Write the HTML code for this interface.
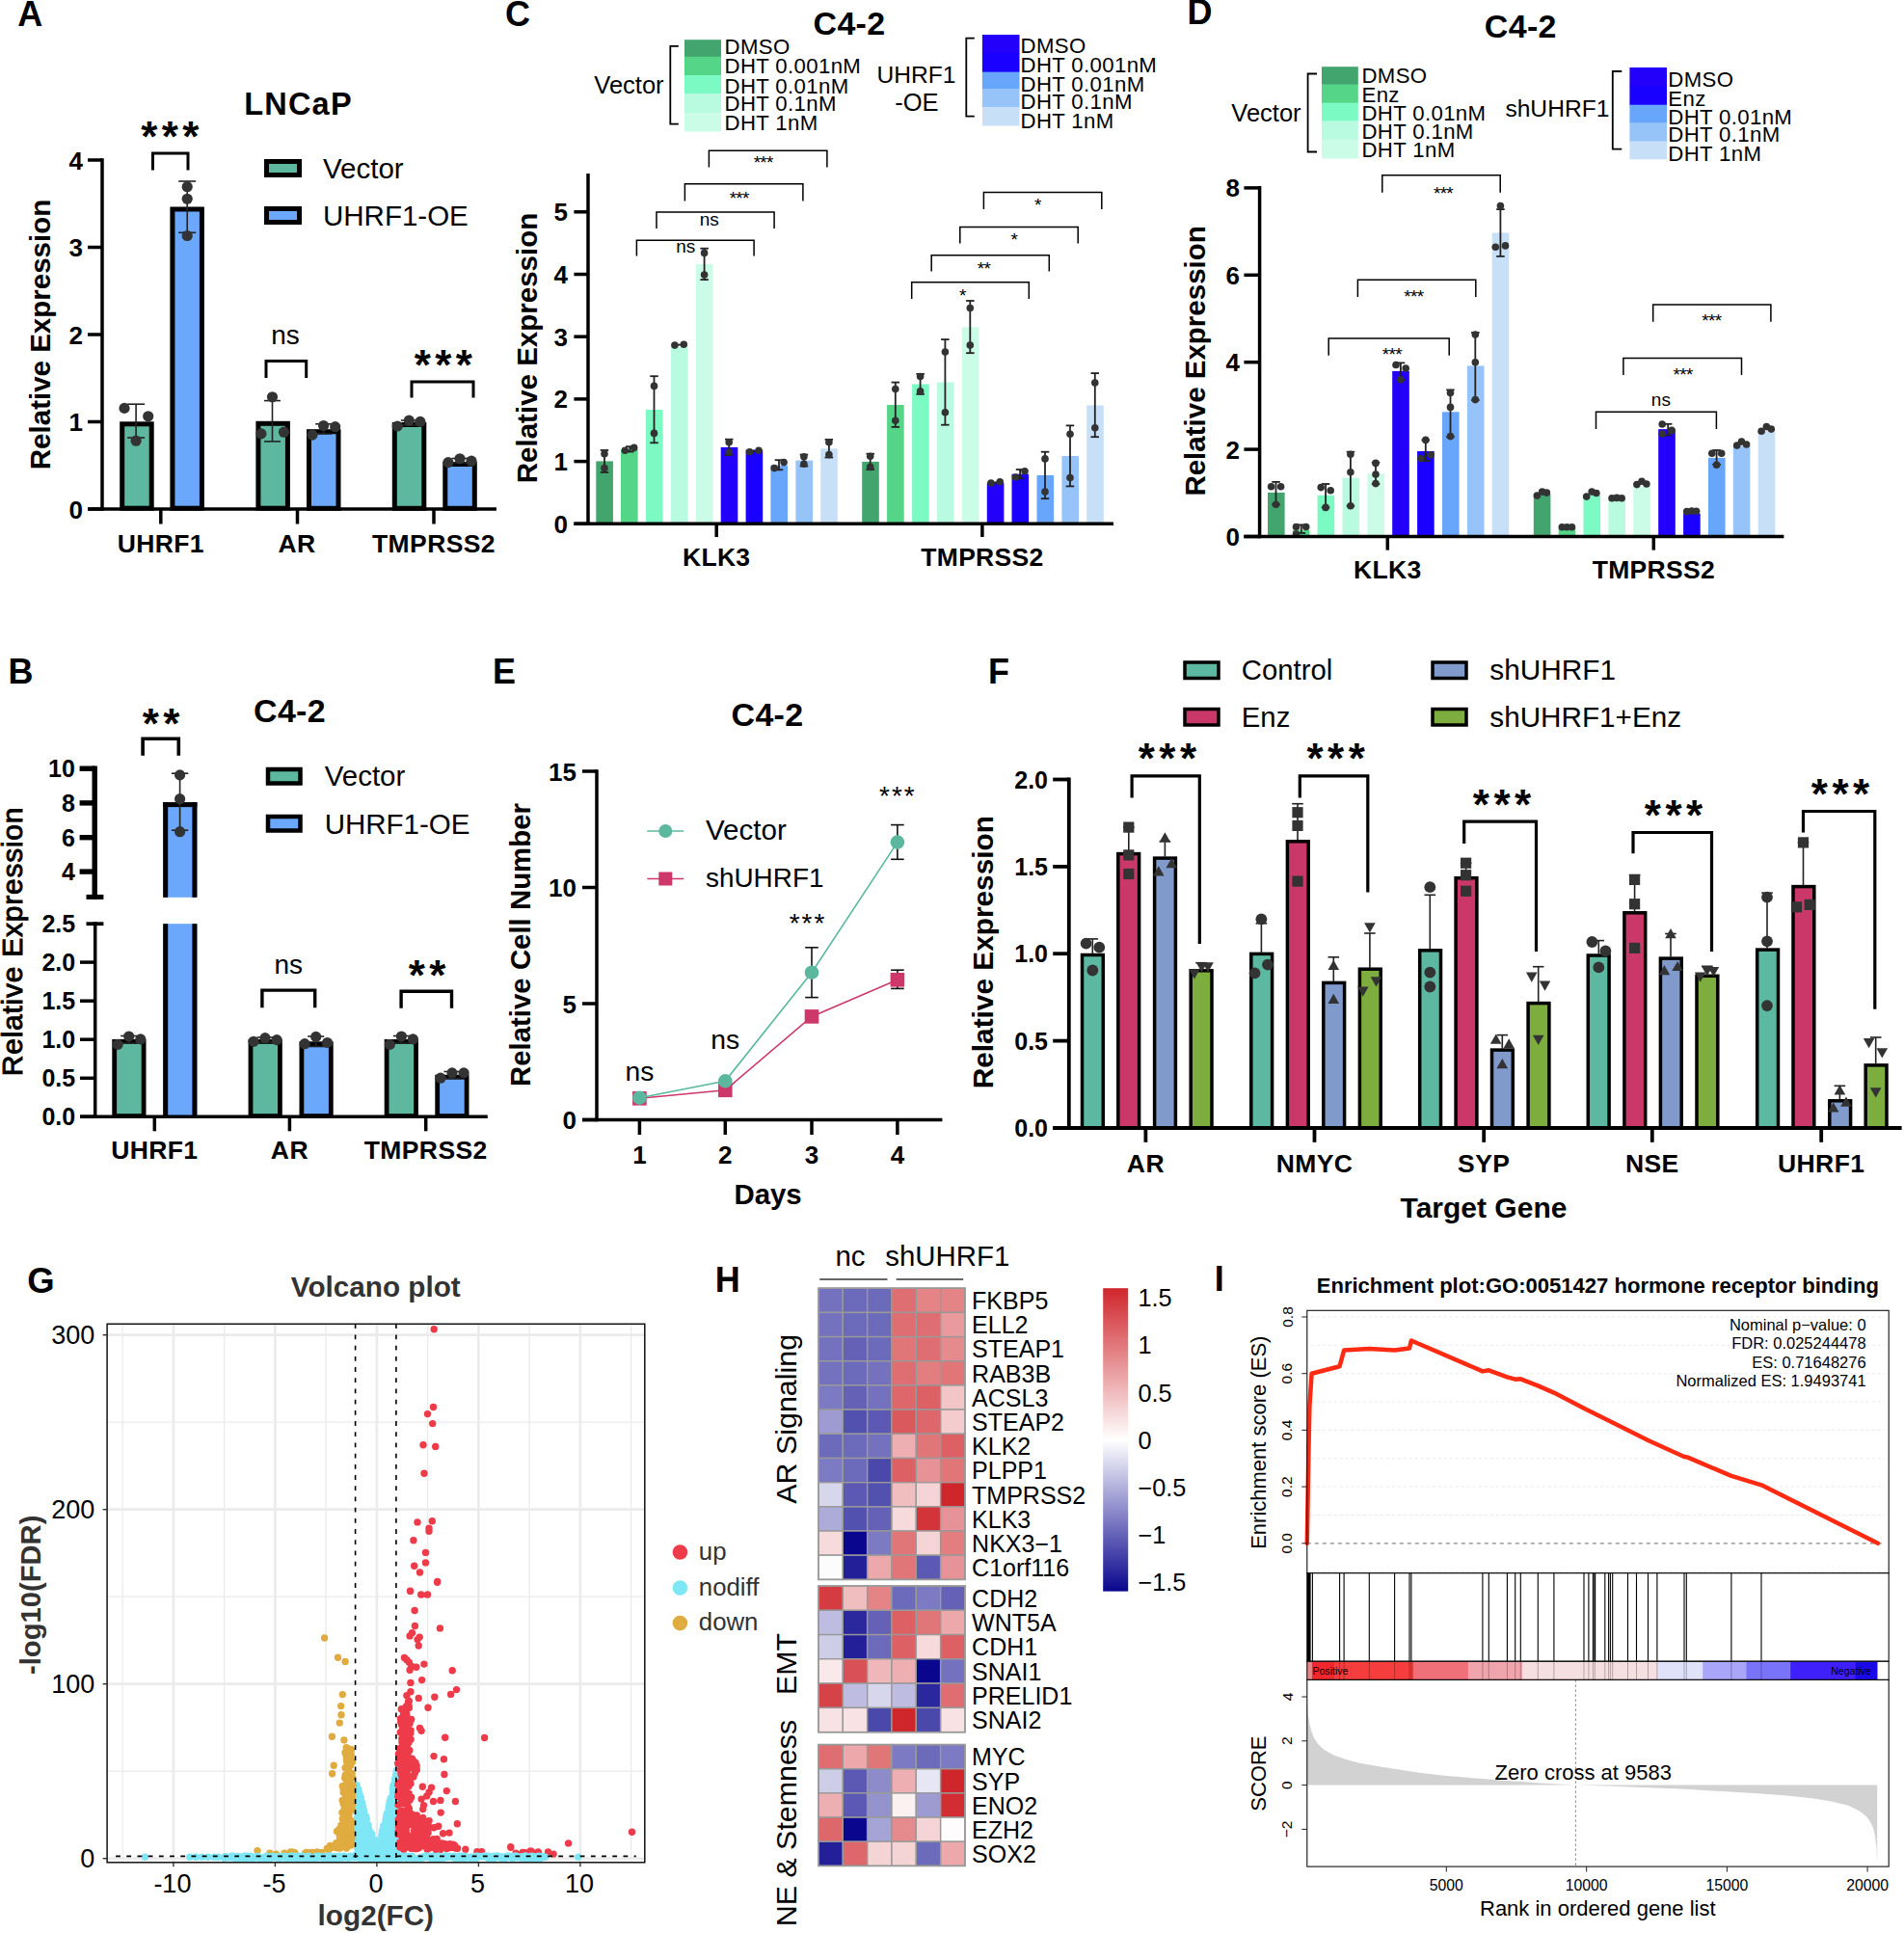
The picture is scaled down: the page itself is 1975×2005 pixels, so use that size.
<!DOCTYPE html>
<html><head><meta charset="utf-8"><title>Figure</title>
<style>html,body{margin:0;padding:0;background:#fff}svg{display:block}text{font-family:"Liberation Sans",sans-serif}</style>
</head><body>
<svg width="1975" height="2005" viewBox="0 0 1975 2005">
<rect width="1975" height="2005" fill="#fff"/>
<g>
<text x="18.2" y="26.8" font-size="36" font-weight="bold">A</text>
<text x="309.5" y="119.0" font-size="32.5" font-weight="bold" text-anchor="middle" letter-spacing="1.2">LNCaP</text>
<text x="52.0" y="347.0" font-size="29.5" font-weight="bold" text-anchor="middle" transform="rotate(-90 52.0 347.0)">Relative Expression</text>
<line x1="91.0" y1="528.0" x2="106.0" y2="528.0" stroke="#000" stroke-width="3.5"/>
<text x="86.0" y="537.5" font-size="26" font-weight="bold" text-anchor="end">0</text>
<line x1="91.0" y1="437.5" x2="106.0" y2="437.5" stroke="#000" stroke-width="3.5"/>
<text x="86.0" y="447.0" font-size="26" font-weight="bold" text-anchor="end">1</text>
<line x1="91.0" y1="347.0" x2="106.0" y2="347.0" stroke="#000" stroke-width="3.5"/>
<text x="86.0" y="356.5" font-size="26" font-weight="bold" text-anchor="end">2</text>
<line x1="91.0" y1="256.5" x2="106.0" y2="256.5" stroke="#000" stroke-width="3.5"/>
<text x="86.0" y="266.0" font-size="26" font-weight="bold" text-anchor="end">3</text>
<line x1="91.0" y1="166.0" x2="106.0" y2="166.0" stroke="#000" stroke-width="3.5"/>
<text x="86.0" y="175.5" font-size="26" font-weight="bold" text-anchor="end">4</text>
<line x1="166.8" y1="528.0" x2="166.8" y2="543.5" stroke="#000" stroke-width="3.5"/>
<line x1="308.5" y1="528.0" x2="308.5" y2="543.5" stroke="#000" stroke-width="3.5"/>
<line x1="450.0" y1="528.0" x2="450.0" y2="543.5" stroke="#000" stroke-width="3.5"/>
<text x="166.8" y="572.5" font-size="26.5" font-weight="bold" text-anchor="middle" letter-spacing="0.4">UHRF1</text>
<text x="308.0" y="572.5" font-size="26.5" font-weight="bold" text-anchor="middle" letter-spacing="0.4">AR</text>
<text x="450.0" y="572.5" font-size="26.5" font-weight="bold" text-anchor="middle" letter-spacing="0.4">TMPRSS2</text>
<rect x="126.7" y="439.8" width="30.5" height="87.4" fill="#5db89f" stroke="#000" stroke-width="5"/>
<rect x="178.9" y="217.0" width="30.5" height="310.2" fill="#6ba7fb" stroke="#000" stroke-width="5"/>
<rect x="267.9" y="439.3" width="30.5" height="87.9" fill="#5db89f" stroke="#000" stroke-width="5"/>
<rect x="320.5" y="447.7" width="30.5" height="79.6" fill="#6ba7fb" stroke="#000" stroke-width="5"/>
<rect x="409.3" y="440.5" width="30.5" height="86.8" fill="#5db89f" stroke="#000" stroke-width="5"/>
<rect x="461.8" y="481.5" width="30.5" height="45.8" fill="#6ba7fb" stroke="#000" stroke-width="5"/>
<line x1="106.0" y1="164.3" x2="106.0" y2="529.7" stroke="#000" stroke-width="3.5"/>
<line x1="91.0" y1="528.0" x2="515.0" y2="528.0" stroke="#000" stroke-width="3.5"/>
<line x1="141.1" y1="419.2" x2="141.1" y2="454.0" stroke="#222" stroke-width="1.6"/>
<line x1="132.1" y1="419.2" x2="150.1" y2="419.2" stroke="#222" stroke-width="1.6"/>
<line x1="132.1" y1="454.0" x2="150.1" y2="454.0" stroke="#222" stroke-width="1.6"/>
<line x1="194.2" y1="188.0" x2="194.2" y2="241.3" stroke="#222" stroke-width="1.6"/>
<line x1="185.2" y1="188.0" x2="203.2" y2="188.0" stroke="#222" stroke-width="1.6"/>
<line x1="185.2" y1="241.3" x2="203.2" y2="241.3" stroke="#222" stroke-width="1.6"/>
<line x1="282.5" y1="415.6" x2="282.5" y2="457.9" stroke="#222" stroke-width="1.6"/>
<line x1="274.0" y1="415.6" x2="291.0" y2="415.6" stroke="#222" stroke-width="1.6"/>
<line x1="274.0" y1="457.9" x2="291.0" y2="457.9" stroke="#222" stroke-width="1.6"/>
<line x1="335.7" y1="439.8" x2="335.7" y2="450.0" stroke="#222" stroke-width="1.6"/>
<line x1="327.2" y1="439.8" x2="344.2" y2="439.8" stroke="#222" stroke-width="1.6"/>
<line x1="327.2" y1="450.0" x2="344.2" y2="450.0" stroke="#222" stroke-width="1.6"/>
<line x1="424.3" y1="436.0" x2="424.3" y2="441.0" stroke="#222" stroke-width="1.6"/>
<line x1="415.8" y1="436.0" x2="432.8" y2="436.0" stroke="#222" stroke-width="1.6"/>
<line x1="415.8" y1="441.0" x2="432.8" y2="441.0" stroke="#222" stroke-width="1.6"/>
<line x1="477.0" y1="475.5" x2="477.0" y2="480.0" stroke="#222" stroke-width="1.6"/>
<line x1="468.5" y1="475.5" x2="485.5" y2="475.5" stroke="#222" stroke-width="1.6"/>
<line x1="468.5" y1="480.0" x2="485.5" y2="480.0" stroke="#222" stroke-width="1.6"/>
<circle cx="129.0" cy="423.4" r="5.6" fill="#333333"/>
<circle cx="153.7" cy="431.8" r="5.6" fill="#333333"/>
<circle cx="141.1" cy="457.2" r="5.6" fill="#333333"/>
<circle cx="194.2" cy="193.7" r="5.6" fill="#333333"/>
<circle cx="194.2" cy="206.3" r="5.6" fill="#333333"/>
<circle cx="194.2" cy="244.5" r="5.6" fill="#333333"/>
<circle cx="282.5" cy="411.8" r="5.6" fill="#333333"/>
<circle cx="270.9" cy="449.9" r="5.6" fill="#333333"/>
<circle cx="294.5" cy="448.2" r="5.6" fill="#333333"/>
<circle cx="324.0" cy="451.1" r="5.6" fill="#333333"/>
<circle cx="335.6" cy="441.5" r="5.6" fill="#333333"/>
<circle cx="347.7" cy="442.7" r="5.6" fill="#333333"/>
<circle cx="412.2" cy="442.0" r="5.6" fill="#333333"/>
<circle cx="424.3" cy="436.2" r="5.6" fill="#333333"/>
<circle cx="435.9" cy="437.4" r="5.6" fill="#333333"/>
<circle cx="464.9" cy="479.6" r="5.6" fill="#333333"/>
<circle cx="477.0" cy="475.8" r="5.6" fill="#333333"/>
<circle cx="489.0" cy="478.2" r="5.6" fill="#333333"/>
<path d="M158.5 176.5V159.0H195.0V176.5" fill="none" stroke="#000" stroke-width="3" stroke-linejoin="miter"/>
<path d="M276.0 392.0V374.6H317.7V392.0" fill="none" stroke="#000" stroke-width="3" stroke-linejoin="miter"/>
<path d="M427.0 412.5V396.0H491.0V412.5" fill="none" stroke="#000" stroke-width="3" stroke-linejoin="miter"/>
<text x="178.5" y="156.6" font-size="44" font-weight="bold" text-anchor="middle" letter-spacing="4.4">***</text>
<text x="462.0" y="393.9" font-size="44" font-weight="bold" text-anchor="middle" letter-spacing="4.4">***</text>
<text x="296.0" y="357.0" font-size="28" text-anchor="middle">ns</text>
<rect x="276.5" y="167.5" width="34.0" height="14.0" fill="#5db89f" stroke="#000" stroke-width="5"/>
<rect x="276.5" y="216.5" width="34.0" height="14.0" fill="#6ba7fb" stroke="#000" stroke-width="5"/>
<text x="335.0" y="184.5" font-size="29.5">Vector</text>
<text x="335.0" y="233.5" font-size="29.5">UHRF1-OE</text>
</g>
<g>
<text x="8.5" y="708.8" font-size="36" font-weight="bold">B</text>
<text x="300.5" y="748.5" font-size="34" font-weight="bold" text-anchor="middle" letter-spacing="0.3">C4-2</text>
<text x="23.3" y="976.5" font-size="30" text-anchor="middle" letter-spacing="0.75" transform="rotate(-90 23.3 976.5)" stroke="#000" stroke-width="0.9">Relative Expression</text>
<line x1="82.6" y1="797.2" x2="98.2" y2="797.2" stroke="#000" stroke-width="5.4"/>
<text x="77.8" y="806.2" font-size="25" font-weight="bold" text-anchor="end">10</text>
<line x1="82.6" y1="832.9" x2="98.2" y2="832.9" stroke="#000" stroke-width="5.4"/>
<text x="77.8" y="841.9" font-size="25" font-weight="bold" text-anchor="end">8</text>
<line x1="82.6" y1="868.7" x2="98.2" y2="868.7" stroke="#000" stroke-width="5.4"/>
<text x="77.8" y="877.7" font-size="25" font-weight="bold" text-anchor="end">6</text>
<line x1="82.6" y1="904.1" x2="98.2" y2="904.1" stroke="#000" stroke-width="5.4"/>
<text x="77.8" y="913.1" font-size="25" font-weight="bold" text-anchor="end">4</text>
<line x1="89.5" y1="930.4" x2="107.4" y2="930.4" stroke="#000" stroke-width="5"/>
<line x1="98.2" y1="794.5" x2="98.2" y2="932.9" stroke="#000" stroke-width="5.4"/>
<line x1="83.0" y1="1158.3" x2="98.7" y2="1158.3" stroke="#000" stroke-width="3.5"/>
<text x="78.2" y="1167.3" font-size="25" font-weight="bold" text-anchor="end">0.0</text>
<line x1="83.0" y1="1118.3" x2="98.7" y2="1118.3" stroke="#000" stroke-width="3.5"/>
<text x="78.2" y="1127.3" font-size="25" font-weight="bold" text-anchor="end">0.5</text>
<line x1="83.0" y1="1078.2" x2="98.7" y2="1078.2" stroke="#000" stroke-width="3.5"/>
<text x="78.2" y="1087.2" font-size="25" font-weight="bold" text-anchor="end">1.0</text>
<line x1="83.0" y1="1038.2" x2="98.7" y2="1038.2" stroke="#000" stroke-width="3.5"/>
<text x="78.2" y="1047.2" font-size="25" font-weight="bold" text-anchor="end">1.5</text>
<line x1="83.0" y1="998.1" x2="98.7" y2="998.1" stroke="#000" stroke-width="3.5"/>
<text x="78.2" y="1007.1" font-size="25" font-weight="bold" text-anchor="end">2.0</text>
<text x="78.2" y="967.1" font-size="25" font-weight="bold" text-anchor="end">2.5</text>
<line x1="89.5" y1="958.2" x2="107.4" y2="958.2" stroke="#000" stroke-width="3.8"/>
<line x1="98.7" y1="956.3" x2="98.7" y2="1160.0" stroke="#000" stroke-width="3.5"/>
<rect x="118.7" y="1080.3" width="30.4" height="77.3" fill="#5db89f" stroke="#000" stroke-width="4.8"/>
<rect x="260.0" y="1080.4" width="30.4" height="77.2" fill="#5db89f" stroke="#000" stroke-width="4.8"/>
<rect x="312.9" y="1082.7" width="30.4" height="74.9" fill="#6ba7fb" stroke="#000" stroke-width="4.8"/>
<rect x="401.1" y="1080.4" width="30.4" height="77.2" fill="#5db89f" stroke="#000" stroke-width="4.8"/>
<rect x="453.7" y="1117.2" width="30.4" height="40.4" fill="#6ba7fb" stroke="#000" stroke-width="4.8"/>
<rect x="169.2" y="832.1" width="35.2" height="98.7" fill="#6ba7fb"/>
<rect x="169.2" y="958.2" width="35.2" height="200.1" fill="#6ba7fb"/>
<rect x="169.2" y="832.1" width="5.0" height="98.7" fill="#000"/>
<rect x="199.4" y="832.1" width="5.0" height="98.7" fill="#000"/>
<rect x="169.2" y="958.2" width="5.0" height="201.8" fill="#000"/>
<rect x="199.4" y="958.2" width="5.0" height="201.8" fill="#000"/>
<rect x="169.2" y="832.1" width="35.2" height="5.0" fill="#000"/>
<line x1="83.0" y1="1158.3" x2="505.8" y2="1158.3" stroke="#000" stroke-width="3.5"/>
<line x1="160.3" y1="1158.3" x2="160.3" y2="1173.3" stroke="#000" stroke-width="3.5"/>
<text x="160.3" y="1201.8" font-size="26.5" font-weight="bold" text-anchor="middle" letter-spacing="0.4">UHRF1</text>
<line x1="300.4" y1="1158.3" x2="300.4" y2="1173.3" stroke="#000" stroke-width="3.5"/>
<text x="300.4" y="1201.8" font-size="26.5" font-weight="bold" text-anchor="middle" letter-spacing="0.4">AR</text>
<line x1="441.7" y1="1158.3" x2="441.7" y2="1173.3" stroke="#000" stroke-width="3.5"/>
<text x="441.7" y="1201.8" font-size="26.5" font-weight="bold" text-anchor="middle" letter-spacing="0.4">TMPRSS2</text>
<line x1="186.6" y1="802.2" x2="186.6" y2="861.2" stroke="#222" stroke-width="1.6"/>
<line x1="177.9" y1="802.2" x2="195.3" y2="802.2" stroke="#222" stroke-width="1.6"/>
<line x1="177.9" y1="861.2" x2="195.3" y2="861.2" stroke="#222" stroke-width="1.6"/>
<circle cx="186.6" cy="803.9" r="5.6" fill="#333333"/>
<circle cx="186.6" cy="828.7" r="5.6" fill="#333333"/>
<circle cx="186.6" cy="862.7" r="5.6" fill="#333333"/>
<line x1="133.7" y1="1074.5" x2="133.7" y2="1082.0" stroke="#222" stroke-width="1.6"/>
<line x1="125.2" y1="1074.5" x2="142.2" y2="1074.5" stroke="#222" stroke-width="1.6"/>
<line x1="125.2" y1="1082.0" x2="142.2" y2="1082.0" stroke="#222" stroke-width="1.6"/>
<line x1="275.0" y1="1076.0" x2="275.0" y2="1081.0" stroke="#222" stroke-width="1.6"/>
<line x1="266.5" y1="1076.0" x2="283.5" y2="1076.0" stroke="#222" stroke-width="1.6"/>
<line x1="266.5" y1="1081.0" x2="283.5" y2="1081.0" stroke="#222" stroke-width="1.6"/>
<line x1="327.7" y1="1075.0" x2="327.7" y2="1085.5" stroke="#222" stroke-width="1.6"/>
<line x1="319.2" y1="1075.0" x2="336.2" y2="1075.0" stroke="#222" stroke-width="1.6"/>
<line x1="319.2" y1="1085.5" x2="336.2" y2="1085.5" stroke="#222" stroke-width="1.6"/>
<line x1="416.4" y1="1074.5" x2="416.4" y2="1082.0" stroke="#222" stroke-width="1.6"/>
<line x1="407.9" y1="1074.5" x2="424.9" y2="1074.5" stroke="#222" stroke-width="1.6"/>
<line x1="407.9" y1="1082.0" x2="424.9" y2="1082.0" stroke="#222" stroke-width="1.6"/>
<line x1="469.0" y1="1111.5" x2="469.0" y2="1118.5" stroke="#222" stroke-width="1.6"/>
<line x1="460.5" y1="1111.5" x2="477.5" y2="1111.5" stroke="#222" stroke-width="1.6"/>
<line x1="460.5" y1="1118.5" x2="477.5" y2="1118.5" stroke="#222" stroke-width="1.6"/>
<circle cx="122.1" cy="1083.4" r="5.6" fill="#333333"/>
<circle cx="133.7" cy="1075.0" r="5.6" fill="#333333"/>
<circle cx="145.8" cy="1077.9" r="5.6" fill="#333333"/>
<circle cx="263.0" cy="1080.3" r="5.6" fill="#333333"/>
<circle cx="275.0" cy="1076.6" r="5.6" fill="#333333"/>
<circle cx="287.1" cy="1078.6" r="5.6" fill="#333333"/>
<circle cx="316.1" cy="1082.7" r="5.6" fill="#333333"/>
<circle cx="327.7" cy="1075.4" r="5.6" fill="#333333"/>
<circle cx="339.5" cy="1081.5" r="5.6" fill="#333333"/>
<circle cx="404.3" cy="1083.4" r="5.6" fill="#333333"/>
<circle cx="416.4" cy="1075.0" r="5.6" fill="#333333"/>
<circle cx="428.4" cy="1077.9" r="5.6" fill="#333333"/>
<circle cx="457.0" cy="1118.2" r="5.6" fill="#333333"/>
<circle cx="469.0" cy="1112.9" r="5.6" fill="#333333"/>
<circle cx="481.1" cy="1112.9" r="5.6" fill="#333333"/>
<path d="M148.1 783.7V766.3H185.3V783.7" fill="none" stroke="#000" stroke-width="3.6" stroke-linejoin="miter"/>
<path d="M271.9 1045.2V1027.1H326.7V1045.2" fill="none" stroke="#000" stroke-width="3.4" stroke-linejoin="miter"/>
<path d="M416.1 1045.7V1028.3H468.5V1045.7" fill="none" stroke="#000" stroke-width="3.4" stroke-linejoin="miter"/>
<text x="169.2" y="765.7" font-size="44" font-weight="bold" text-anchor="middle" letter-spacing="4.4">**</text>
<text x="445.2" y="1026.5" font-size="44" font-weight="bold" text-anchor="middle" letter-spacing="4.4">**</text>
<text x="299.2" y="1010.2" font-size="28" text-anchor="middle">ns</text>
<rect x="278.0" y="798.0" width="33.5" height="14.5" fill="#5db89f" stroke="#000" stroke-width="4.5"/>
<rect x="278.0" y="847.0" width="33.5" height="14.5" fill="#6ba7fb" stroke="#000" stroke-width="4.5"/>
<text x="336.7" y="815.2" font-size="29.5">Vector</text>
<text x="336.7" y="864.8" font-size="29.5">UHRF1-OE</text>
</g>
<g>
<text x="524.0" y="26.8" font-size="36" font-weight="bold">C</text>
<text x="881.0" y="35.7" font-size="34" font-weight="bold" text-anchor="middle" letter-spacing="0.3">C4-2</text>
<text x="557.0" y="361.0" font-size="29.5" font-weight="bold" text-anchor="middle" transform="rotate(-90 557.0 361.0)">Relative Expression</text>
<rect x="710.0" y="41.2" width="38.0" height="18.1" fill="#41a56d"/>
<rect x="710.0" y="58.8" width="38.0" height="19.7" fill="#54d588"/>
<rect x="710.0" y="78.0" width="38.0" height="19.5" fill="#7cfac4"/>
<rect x="710.0" y="97.0" width="38.0" height="20.5" fill="#b9fbe1"/>
<rect x="710.0" y="117.0" width="38.0" height="19.5" fill="#cafce7"/>
<text x="751.6" y="55.6" font-size="22.2" letter-spacing="0.35">DMSO</text>
<text x="751.6" y="76.2" font-size="22.2" letter-spacing="0.35">DHT 0.001nM</text>
<text x="751.6" y="96.7" font-size="22.2" letter-spacing="0.35">DHT 0.01nM</text>
<text x="751.6" y="115.1" font-size="22.2" letter-spacing="0.35">DHT 0.1nM</text>
<text x="751.6" y="135.0" font-size="22.2" letter-spacing="0.35">DHT 1nM</text>
<text x="616.3" y="97.4" font-size="25.5">Vector</text>
<path d="M703.8 47.8H695.3V128.7H703.8" fill="none" stroke="#000" stroke-width="1.8"/>
<text x="950.5" y="86.4" font-size="24.6" text-anchor="middle">UHRF1</text>
<text x="950.9" y="114.7" font-size="25.5" text-anchor="middle">-OE</text>
<path d="M1010.8 39.7H1002.3V120.6H1010.8" fill="none" stroke="#000" stroke-width="1.8"/>
<rect x="1018.9" y="36.0" width="38.6" height="19.5" fill="#2300fa"/>
<rect x="1018.9" y="55.0" width="38.6" height="20.1" fill="#1a00ff"/>
<rect x="1018.9" y="74.6" width="38.6" height="17.9" fill="#68a6fb"/>
<rect x="1018.9" y="92.0" width="38.6" height="19.5" fill="#97c4f8"/>
<rect x="1018.9" y="111.0" width="38.6" height="19.5" fill="#c8dff8"/>
<text x="1058.6" y="54.7" font-size="22.2" letter-spacing="0.35">DMSO</text>
<text x="1058.6" y="75.1" font-size="22.2" letter-spacing="0.35">DHT 0.001nM</text>
<text x="1058.6" y="94.6" font-size="22.2" letter-spacing="0.35">DHT 0.01nM</text>
<text x="1058.6" y="112.6" font-size="22.2" letter-spacing="0.35">DHT 0.1nM</text>
<text x="1058.6" y="132.7" font-size="22.2" letter-spacing="0.35">DHT 1nM</text>
<rect x="618.3" y="478.4" width="17.6" height="64.9" fill="#41a56d"/>
<rect x="644.0" y="466.5" width="17.6" height="76.8" fill="#54d588"/>
<rect x="670.0" y="425.0" width="17.6" height="118.3" fill="#7cfac4"/>
<rect x="696.0" y="359.8" width="17.6" height="183.5" fill="#b9fbe1"/>
<rect x="721.9" y="274.0" width="17.6" height="269.3" fill="#cafce7"/>
<rect x="747.7" y="463.9" width="17.6" height="79.4" fill="#2300fa"/>
<rect x="773.6" y="466.5" width="17.6" height="76.8" fill="#1a00ff"/>
<rect x="799.4" y="482.7" width="17.6" height="60.6" fill="#68a6fb"/>
<rect x="825.4" y="477.6" width="17.6" height="65.7" fill="#97c4f8"/>
<rect x="851.2" y="465.3" width="17.6" height="78.0" fill="#c8dff8"/>
<line x1="627.0" y1="467.0" x2="627.0" y2="489.9" stroke="#222" stroke-width="1.8"/>
<line x1="622.7" y1="467.0" x2="631.2" y2="467.0" stroke="#222" stroke-width="1.8"/>
<line x1="622.7" y1="489.9" x2="631.2" y2="489.9" stroke="#222" stroke-width="1.8"/>
<line x1="653.3" y1="463.2" x2="653.3" y2="468.5" stroke="#222" stroke-width="1.8"/>
<line x1="649.0" y1="463.2" x2="657.5" y2="463.2" stroke="#222" stroke-width="1.8"/>
<line x1="649.0" y1="468.5" x2="657.5" y2="468.5" stroke="#222" stroke-width="1.8"/>
<line x1="678.5" y1="390.2" x2="678.5" y2="459.3" stroke="#222" stroke-width="1.8"/>
<line x1="674.3" y1="390.2" x2="682.8" y2="390.2" stroke="#222" stroke-width="1.8"/>
<line x1="674.3" y1="459.3" x2="682.8" y2="459.3" stroke="#222" stroke-width="1.8"/>
<line x1="730.6" y1="257.7" x2="730.6" y2="290.1" stroke="#222" stroke-width="1.8"/>
<line x1="726.4" y1="257.7" x2="734.9" y2="257.7" stroke="#222" stroke-width="1.8"/>
<line x1="726.4" y1="290.1" x2="734.9" y2="290.1" stroke="#222" stroke-width="1.8"/>
<line x1="756.2" y1="455.7" x2="756.2" y2="472.1" stroke="#222" stroke-width="1.8"/>
<line x1="752.0" y1="455.7" x2="760.5" y2="455.7" stroke="#222" stroke-width="1.8"/>
<line x1="752.0" y1="472.1" x2="760.5" y2="472.1" stroke="#222" stroke-width="1.8"/>
<line x1="808.0" y1="477.2" x2="808.0" y2="487.3" stroke="#222" stroke-width="1.8"/>
<line x1="803.7" y1="477.2" x2="812.2" y2="477.2" stroke="#222" stroke-width="1.8"/>
<line x1="803.7" y1="487.3" x2="812.2" y2="487.3" stroke="#222" stroke-width="1.8"/>
<line x1="833.9" y1="471.6" x2="833.9" y2="483.5" stroke="#222" stroke-width="1.8"/>
<line x1="829.7" y1="471.6" x2="838.2" y2="471.6" stroke="#222" stroke-width="1.8"/>
<line x1="829.7" y1="483.5" x2="838.2" y2="483.5" stroke="#222" stroke-width="1.8"/>
<line x1="859.9" y1="455.9" x2="859.9" y2="474.5" stroke="#222" stroke-width="1.8"/>
<line x1="855.6" y1="455.9" x2="864.1" y2="455.9" stroke="#222" stroke-width="1.8"/>
<line x1="855.6" y1="474.5" x2="864.1" y2="474.5" stroke="#222" stroke-width="1.8"/>
<line x1="699.9" y1="358.1" x2="709.3" y2="357.2" stroke="#222" stroke-width="1.8"/>
<line x1="777.6" y1="468.7" x2="787.0" y2="467.3" stroke="#222" stroke-width="1.8"/>
<circle cx="627.0" cy="470.7" r="3.8" fill="#333333"/>
<circle cx="627.0" cy="485.6" r="3.8" fill="#333333"/>
<circle cx="648.3" cy="467.3" r="3.8" fill="#333333"/>
<circle cx="657.7" cy="464.4" r="3.8" fill="#333333"/>
<circle cx="678.5" cy="400.4" r="3.8" fill="#333333"/>
<circle cx="678.5" cy="449.4" r="3.8" fill="#333333"/>
<circle cx="699.9" cy="358.1" r="3.8" fill="#333333"/>
<circle cx="709.3" cy="357.2" r="3.8" fill="#333333"/>
<circle cx="730.6" cy="262.4" r="3.8" fill="#333333"/>
<circle cx="730.6" cy="285.0" r="3.8" fill="#333333"/>
<circle cx="756.2" cy="458.8" r="3.8" fill="#333333"/>
<circle cx="756.2" cy="469.0" r="3.8" fill="#333333"/>
<circle cx="777.6" cy="468.7" r="3.8" fill="#333333"/>
<circle cx="787.0" cy="467.3" r="3.8" fill="#333333"/>
<circle cx="803.2" cy="485.6" r="3.8" fill="#333333"/>
<circle cx="813.1" cy="479.6" r="3.8" fill="#333333"/>
<circle cx="833.9" cy="473.8" r="3.8" fill="#333333"/>
<circle cx="833.9" cy="481.3" r="3.8" fill="#333333"/>
<circle cx="859.9" cy="458.8" r="3.8" fill="#333333"/>
<circle cx="859.9" cy="471.6" r="3.8" fill="#333333"/>
<path d="M660.4 265.4V249.3H782.1V265.4" fill="none" stroke="#000" stroke-width="1.5" stroke-linejoin="miter"/>
<text x="711.2" y="261.8" font-size="19" text-anchor="middle">ns</text>
<path d="M681.0 237.1V219.9H803.1V237.1" fill="none" stroke="#000" stroke-width="1.5" stroke-linejoin="miter"/>
<text x="735.8" y="233.5" font-size="19" text-anchor="middle">ns</text>
<path d="M710.4 208.5V190.8H832.9V208.5" fill="none" stroke="#000" stroke-width="1.5" stroke-linejoin="miter"/>
<text x="766.7" y="211.7" font-size="19" text-anchor="middle" letter-spacing="-0.7">***</text>
<path d="M735.4 173.5V156.2H857.9V173.5" fill="none" stroke="#000" stroke-width="1.5" stroke-linejoin="miter"/>
<text x="791.7" y="174.9" font-size="19" text-anchor="middle" letter-spacing="-0.7">***</text>
<rect x="894.2" y="478.9" width="17.6" height="64.4" fill="#41a56d"/>
<rect x="920.1" y="420.0" width="17.6" height="123.3" fill="#54d588"/>
<rect x="946.1" y="398.5" width="17.6" height="144.8" fill="#7cfac4"/>
<rect x="971.9" y="396.5" width="17.6" height="146.8" fill="#b9fbe1"/>
<rect x="997.8" y="339.3" width="17.6" height="204.0" fill="#cafce7"/>
<rect x="1023.8" y="500.6" width="17.6" height="42.7" fill="#2300fa"/>
<rect x="1049.5" y="491.7" width="17.6" height="51.6" fill="#1a00ff"/>
<rect x="1075.5" y="492.9" width="17.6" height="50.4" fill="#68a6fb"/>
<rect x="1101.4" y="473.0" width="17.6" height="70.3" fill="#97c4f8"/>
<rect x="1127.2" y="420.4" width="17.6" height="122.9" fill="#c8dff8"/>
<line x1="902.7" y1="470.7" x2="902.7" y2="487.0" stroke="#222" stroke-width="1.8"/>
<line x1="898.5" y1="470.7" x2="907.0" y2="470.7" stroke="#222" stroke-width="1.8"/>
<line x1="898.5" y1="487.0" x2="907.0" y2="487.0" stroke="#222" stroke-width="1.8"/>
<line x1="928.8" y1="396.6" x2="928.8" y2="442.9" stroke="#222" stroke-width="1.8"/>
<line x1="924.6" y1="396.6" x2="933.1" y2="396.6" stroke="#222" stroke-width="1.8"/>
<line x1="924.6" y1="442.9" x2="933.1" y2="442.9" stroke="#222" stroke-width="1.8"/>
<line x1="954.6" y1="387.9" x2="954.6" y2="408.8" stroke="#222" stroke-width="1.8"/>
<line x1="950.4" y1="387.9" x2="958.9" y2="387.9" stroke="#222" stroke-width="1.8"/>
<line x1="950.4" y1="408.8" x2="958.9" y2="408.8" stroke="#222" stroke-width="1.8"/>
<line x1="980.4" y1="352.1" x2="980.4" y2="440.7" stroke="#222" stroke-width="1.8"/>
<line x1="976.1" y1="352.1" x2="984.6" y2="352.1" stroke="#222" stroke-width="1.8"/>
<line x1="976.1" y1="440.7" x2="984.6" y2="440.7" stroke="#222" stroke-width="1.8"/>
<line x1="1006.3" y1="312.0" x2="1006.3" y2="366.2" stroke="#222" stroke-width="1.8"/>
<line x1="1002.1" y1="312.0" x2="1010.6" y2="312.0" stroke="#222" stroke-width="1.8"/>
<line x1="1002.1" y1="366.2" x2="1010.6" y2="366.2" stroke="#222" stroke-width="1.8"/>
<line x1="1058.1" y1="487.0" x2="1058.1" y2="496.3" stroke="#222" stroke-width="1.8"/>
<line x1="1053.8" y1="487.0" x2="1062.3" y2="487.0" stroke="#222" stroke-width="1.8"/>
<line x1="1053.8" y1="496.3" x2="1062.3" y2="496.3" stroke="#222" stroke-width="1.8"/>
<line x1="1084.0" y1="468.7" x2="1084.0" y2="517.2" stroke="#222" stroke-width="1.8"/>
<line x1="1079.8" y1="468.7" x2="1088.3" y2="468.7" stroke="#222" stroke-width="1.8"/>
<line x1="1079.8" y1="517.2" x2="1088.3" y2="517.2" stroke="#222" stroke-width="1.8"/>
<line x1="1110.0" y1="441.4" x2="1110.0" y2="504.4" stroke="#222" stroke-width="1.8"/>
<line x1="1105.7" y1="441.4" x2="1114.2" y2="441.4" stroke="#222" stroke-width="1.8"/>
<line x1="1105.7" y1="504.4" x2="1114.2" y2="504.4" stroke="#222" stroke-width="1.8"/>
<line x1="1135.8" y1="387.1" x2="1135.8" y2="453.2" stroke="#222" stroke-width="1.8"/>
<line x1="1131.5" y1="387.1" x2="1140.0" y2="387.1" stroke="#222" stroke-width="1.8"/>
<line x1="1131.5" y1="453.2" x2="1140.0" y2="453.2" stroke="#222" stroke-width="1.8"/>
<line x1="1027.9" y1="501.0" x2="1037.2" y2="499.8" stroke="#222" stroke-width="1.8"/>
<circle cx="902.7" cy="473.3" r="3.8" fill="#333333"/>
<circle cx="902.7" cy="484.4" r="3.8" fill="#333333"/>
<circle cx="928.8" cy="403.6" r="3.8" fill="#333333"/>
<circle cx="928.8" cy="436.2" r="3.8" fill="#333333"/>
<circle cx="954.6" cy="390.5" r="3.8" fill="#333333"/>
<circle cx="954.6" cy="405.9" r="3.8" fill="#333333"/>
<circle cx="980.4" cy="365.1" r="3.8" fill="#333333"/>
<circle cx="980.4" cy="427.7" r="3.8" fill="#333333"/>
<circle cx="1006.3" cy="319.6" r="3.8" fill="#333333"/>
<circle cx="1006.3" cy="358.1" r="3.8" fill="#333333"/>
<circle cx="1027.9" cy="501.0" r="3.8" fill="#333333"/>
<circle cx="1037.2" cy="499.8" r="3.8" fill="#333333"/>
<circle cx="1053.5" cy="495.0" r="3.8" fill="#333333"/>
<circle cx="1063.0" cy="488.7" r="3.8" fill="#333333"/>
<circle cx="1084.0" cy="475.9" r="3.8" fill="#333333"/>
<circle cx="1084.0" cy="510.0" r="3.8" fill="#333333"/>
<circle cx="1110.0" cy="450.2" r="3.8" fill="#333333"/>
<circle cx="1110.0" cy="495.5" r="3.8" fill="#333333"/>
<circle cx="1135.8" cy="397.0" r="3.8" fill="#333333"/>
<circle cx="1135.8" cy="443.8" r="3.8" fill="#333333"/>
<path d="M945.7 309.9V292.8H1067.3V309.9" fill="none" stroke="#000" stroke-width="1.5" stroke-linejoin="miter"/>
<text x="998.3" y="312.6" font-size="19" text-anchor="middle" letter-spacing="-0.7">*</text>
<path d="M966.2 281.6V264.7H1088.3V281.6" fill="none" stroke="#000" stroke-width="1.5" stroke-linejoin="miter"/>
<text x="1020.5" y="284.7" font-size="19" text-anchor="middle" letter-spacing="-0.7">**</text>
<path d="M995.8 252.5V235.5H1118.2V252.5" fill="none" stroke="#000" stroke-width="1.5" stroke-linejoin="miter"/>
<text x="1051.9" y="255.4" font-size="19" text-anchor="middle" letter-spacing="-0.7">*</text>
<path d="M1020.4 216.9V199.6H1142.8V216.9" fill="none" stroke="#000" stroke-width="1.5" stroke-linejoin="miter"/>
<text x="1076.6" y="218.7" font-size="19" text-anchor="middle">*</text>
<line x1="595.4" y1="543.3" x2="610.0" y2="543.3" stroke="#000" stroke-width="3.5"/>
<text x="589.0" y="552.8" font-size="26" font-weight="bold" text-anchor="end">0</text>
<line x1="595.4" y1="478.6" x2="610.0" y2="478.6" stroke="#000" stroke-width="3.5"/>
<text x="589.0" y="488.1" font-size="26" font-weight="bold" text-anchor="end">1</text>
<line x1="595.4" y1="413.9" x2="610.0" y2="413.9" stroke="#000" stroke-width="3.5"/>
<text x="589.0" y="423.4" font-size="26" font-weight="bold" text-anchor="end">2</text>
<line x1="595.4" y1="349.2" x2="610.0" y2="349.2" stroke="#000" stroke-width="3.5"/>
<text x="589.0" y="358.7" font-size="26" font-weight="bold" text-anchor="end">3</text>
<line x1="595.4" y1="284.5" x2="610.0" y2="284.5" stroke="#000" stroke-width="3.5"/>
<text x="589.0" y="294.0" font-size="26" font-weight="bold" text-anchor="end">4</text>
<line x1="595.4" y1="219.8" x2="610.0" y2="219.8" stroke="#000" stroke-width="3.5"/>
<text x="589.0" y="229.3" font-size="26" font-weight="bold" text-anchor="end">5</text>
<line x1="610.0" y1="180.0" x2="610.0" y2="545.0" stroke="#000" stroke-width="3.5"/>
<line x1="595.4" y1="543.3" x2="1155.0" y2="543.3" stroke="#000" stroke-width="3.5"/>
<line x1="743.2" y1="543.3" x2="743.2" y2="557.0" stroke="#000" stroke-width="3.5"/>
<text x="743.2" y="587.0" font-size="26.5" font-weight="bold" text-anchor="middle" letter-spacing="0.3">KLK3</text>
<line x1="1018.9" y1="543.3" x2="1018.9" y2="557.0" stroke="#000" stroke-width="3.5"/>
<text x="1018.9" y="587.0" font-size="26.5" font-weight="bold" text-anchor="middle" letter-spacing="0.3">TMPRSS2</text>
</g>
<g>
<text x="1231.5" y="25.2" font-size="36" font-weight="bold">D</text>
<text x="1577.3" y="38.7" font-size="34" font-weight="bold" text-anchor="middle" letter-spacing="0.3">C4-2</text>
<text x="1250.0" y="374.4" font-size="29.5" font-weight="bold" text-anchor="middle" transform="rotate(-90 1250.0 374.4)">Relative Expression</text>
<rect x="1371.0" y="69.2" width="37.8" height="18.8" fill="#41a56d"/>
<rect x="1371.0" y="87.5" width="37.8" height="19.6" fill="#54d588"/>
<rect x="1371.0" y="106.6" width="37.8" height="19.3" fill="#7cfac4"/>
<rect x="1371.0" y="125.4" width="37.8" height="19.6" fill="#b9fbe1"/>
<rect x="1371.0" y="144.5" width="37.8" height="20.0" fill="#cafce7"/>
<text x="1412.5" y="86.0" font-size="22.2" letter-spacing="0.35">DMSO</text>
<text x="1412.5" y="105.5" font-size="22.2" letter-spacing="0.35">Enz</text>
<text x="1412.5" y="125.1" font-size="22.2" letter-spacing="0.35">DHT 0.01nM</text>
<text x="1412.5" y="143.7" font-size="22.2" letter-spacing="0.35">DHT 0.1nM</text>
<text x="1412.5" y="163.3" font-size="22.2" letter-spacing="0.35">DHT 1nM</text>
<text x="1277.3" y="126.2" font-size="25.5">Vector</text>
<path d="M1366 76.5H1356.6V157.5H1366" fill="none" stroke="#000" stroke-width="1.8"/>
<text x="1561.4" y="120.9" font-size="24.6">shUHRF1</text>
<path d="M1682.3 74H1672.8V154.7H1682.3" fill="none" stroke="#000" stroke-width="1.8"/>
<rect x="1690.4" y="70.0" width="38.6" height="20.0" fill="#2300fa"/>
<rect x="1690.4" y="89.5" width="38.6" height="19.7" fill="#1a00ff"/>
<rect x="1690.4" y="108.7" width="38.6" height="19.2" fill="#68a6fb"/>
<rect x="1690.4" y="127.4" width="38.6" height="19.6" fill="#97c4f8"/>
<rect x="1690.4" y="146.5" width="38.6" height="18.8" fill="#c8dff8"/>
<text x="1730.3" y="90.1" font-size="22.2" letter-spacing="0.35">DMSO</text>
<text x="1730.3" y="109.6" font-size="22.2" letter-spacing="0.35">Enz</text>
<text x="1730.3" y="129.1" font-size="22.2" letter-spacing="0.35">DHT 0.01nM</text>
<text x="1730.3" y="147.4" font-size="22.2" letter-spacing="0.35">DHT 0.1nM</text>
<text x="1730.3" y="167.4" font-size="22.2" letter-spacing="0.35">DHT 1nM</text>
<rect x="1315.0" y="510.9" width="17.6" height="45.6" fill="#41a56d"/>
<rect x="1340.9" y="549.7" width="17.6" height="6.8" fill="#54d588"/>
<rect x="1366.6" y="513.7" width="17.6" height="42.8" fill="#7cfac4"/>
<rect x="1392.5" y="495.6" width="17.6" height="60.9" fill="#b9fbe1"/>
<rect x="1418.3" y="491.2" width="17.6" height="65.3" fill="#cafce7"/>
<rect x="1444.2" y="384.9" width="17.6" height="171.6" fill="#2300fa"/>
<rect x="1470.1" y="468.0" width="17.6" height="88.5" fill="#1a00ff"/>
<rect x="1496.0" y="427.3" width="17.6" height="129.2" fill="#68a6fb"/>
<rect x="1521.9" y="379.4" width="17.6" height="177.1" fill="#97c4f8"/>
<rect x="1547.7" y="241.5" width="17.6" height="315.0" fill="#c8dff8"/>
<line x1="1323.5" y1="499.9" x2="1323.5" y2="523.2" stroke="#222" stroke-width="1.8"/>
<line x1="1319.3" y1="499.9" x2="1327.8" y2="499.9" stroke="#222" stroke-width="1.8"/>
<line x1="1319.3" y1="523.2" x2="1327.8" y2="523.2" stroke="#222" stroke-width="1.8"/>
<line x1="1349.8" y1="544.4" x2="1349.8" y2="552.9" stroke="#222" stroke-width="1.8"/>
<line x1="1345.6" y1="544.4" x2="1354.1" y2="544.4" stroke="#222" stroke-width="1.8"/>
<line x1="1345.6" y1="552.9" x2="1354.1" y2="552.9" stroke="#222" stroke-width="1.8"/>
<line x1="1375.1" y1="502.0" x2="1375.1" y2="526.4" stroke="#222" stroke-width="1.8"/>
<line x1="1370.8" y1="502.0" x2="1379.3" y2="502.0" stroke="#222" stroke-width="1.8"/>
<line x1="1370.8" y1="526.4" x2="1379.3" y2="526.4" stroke="#222" stroke-width="1.8"/>
<line x1="1400.9" y1="468.7" x2="1400.9" y2="524.7" stroke="#222" stroke-width="1.8"/>
<line x1="1396.7" y1="468.7" x2="1405.2" y2="468.7" stroke="#222" stroke-width="1.8"/>
<line x1="1396.7" y1="524.7" x2="1405.2" y2="524.7" stroke="#222" stroke-width="1.8"/>
<line x1="1427.0" y1="479.7" x2="1427.0" y2="502.0" stroke="#222" stroke-width="1.8"/>
<line x1="1422.8" y1="479.7" x2="1431.3" y2="479.7" stroke="#222" stroke-width="1.8"/>
<line x1="1422.8" y1="502.0" x2="1431.3" y2="502.0" stroke="#222" stroke-width="1.8"/>
<line x1="1452.9" y1="376.4" x2="1452.9" y2="393.8" stroke="#222" stroke-width="1.8"/>
<line x1="1448.7" y1="376.4" x2="1457.2" y2="376.4" stroke="#222" stroke-width="1.8"/>
<line x1="1448.7" y1="393.8" x2="1457.2" y2="393.8" stroke="#222" stroke-width="1.8"/>
<line x1="1478.8" y1="456.4" x2="1478.8" y2="478.0" stroke="#222" stroke-width="1.8"/>
<line x1="1474.5" y1="456.4" x2="1483.0" y2="456.4" stroke="#222" stroke-width="1.8"/>
<line x1="1474.5" y1="478.0" x2="1483.0" y2="478.0" stroke="#222" stroke-width="1.8"/>
<line x1="1504.5" y1="404.4" x2="1504.5" y2="453.2" stroke="#222" stroke-width="1.8"/>
<line x1="1500.2" y1="404.4" x2="1508.7" y2="404.4" stroke="#222" stroke-width="1.8"/>
<line x1="1500.2" y1="453.2" x2="1508.7" y2="453.2" stroke="#222" stroke-width="1.8"/>
<line x1="1530.3" y1="345.0" x2="1530.3" y2="415.0" stroke="#222" stroke-width="1.8"/>
<line x1="1526.1" y1="345.0" x2="1534.6" y2="345.0" stroke="#222" stroke-width="1.8"/>
<line x1="1526.1" y1="415.0" x2="1534.6" y2="415.0" stroke="#222" stroke-width="1.8"/>
<line x1="1556.4" y1="217.1" x2="1556.4" y2="265.9" stroke="#222" stroke-width="1.8"/>
<line x1="1552.2" y1="217.1" x2="1560.7" y2="217.1" stroke="#222" stroke-width="1.8"/>
<line x1="1552.2" y1="265.9" x2="1560.7" y2="265.9" stroke="#222" stroke-width="1.8"/>
<circle cx="1318.6" cy="504.7" r="3.8" fill="#333333"/>
<circle cx="1328.6" cy="504.7" r="3.8" fill="#333333"/>
<circle cx="1323.5" cy="523.2" r="3.8" fill="#333333"/>
<circle cx="1344.5" cy="546.5" r="3.8" fill="#333333"/>
<circle cx="1354.7" cy="546.5" r="3.8" fill="#333333"/>
<circle cx="1344.5" cy="554.0" r="3.8" fill="#333333"/>
<circle cx="1370.2" cy="505.6" r="3.8" fill="#333333"/>
<circle cx="1380.2" cy="508.8" r="3.8" fill="#333333"/>
<circle cx="1375.1" cy="526.4" r="3.8" fill="#333333"/>
<circle cx="1400.9" cy="471.2" r="3.8" fill="#333333"/>
<circle cx="1400.9" cy="489.7" r="3.8" fill="#333333"/>
<circle cx="1400.9" cy="524.7" r="3.8" fill="#333333"/>
<circle cx="1427.0" cy="480.4" r="3.8" fill="#333333"/>
<circle cx="1427.0" cy="492.0" r="3.8" fill="#333333"/>
<circle cx="1427.0" cy="501.6" r="3.8" fill="#333333"/>
<circle cx="1448.0" cy="378.5" r="3.8" fill="#333333"/>
<circle cx="1458.2" cy="382.1" r="3.8" fill="#333333"/>
<circle cx="1452.9" cy="393.8" r="3.8" fill="#333333"/>
<circle cx="1478.8" cy="456.4" r="3.8" fill="#333333"/>
<circle cx="1473.7" cy="475.5" r="3.8" fill="#333333"/>
<circle cx="1484.1" cy="471.7" r="3.8" fill="#333333"/>
<circle cx="1504.5" cy="407.6" r="3.8" fill="#333333"/>
<circle cx="1504.5" cy="422.4" r="3.8" fill="#333333"/>
<circle cx="1504.5" cy="452.6" r="3.8" fill="#333333"/>
<circle cx="1530.3" cy="347.1" r="3.8" fill="#333333"/>
<circle cx="1530.3" cy="375.8" r="3.8" fill="#333333"/>
<circle cx="1530.3" cy="414.6" r="3.8" fill="#333333"/>
<circle cx="1556.4" cy="213.5" r="3.8" fill="#333333"/>
<circle cx="1551.3" cy="256.3" r="3.8" fill="#333333"/>
<circle cx="1561.5" cy="254.9" r="3.8" fill="#333333"/>
<path d="M1378.2 368.8V351.0H1503.2V368.8" fill="none" stroke="#000" stroke-width="1.5" stroke-linejoin="miter"/>
<text x="1443.8" y="373.6" font-size="19" text-anchor="middle" letter-spacing="-0.7">***</text>
<path d="M1408.4 307.9V290.3H1530.8V307.9" fill="none" stroke="#000" stroke-width="1.5" stroke-linejoin="miter"/>
<text x="1466.3" y="314.2" font-size="19" text-anchor="middle" letter-spacing="-0.7">***</text>
<path d="M1433.8 199.7V181.7H1556.2V199.7" fill="none" stroke="#000" stroke-width="1.5" stroke-linejoin="miter"/>
<text x="1497.0" y="207.1" font-size="19" text-anchor="middle" letter-spacing="-0.7">***</text>
<rect x="1590.8" y="512.6" width="17.6" height="43.9" fill="#41a56d"/>
<rect x="1616.7" y="547.6" width="17.6" height="8.9" fill="#54d588"/>
<rect x="1642.5" y="513.7" width="17.6" height="42.8" fill="#7cfac4"/>
<rect x="1668.4" y="517.9" width="17.6" height="38.6" fill="#b9fbe1"/>
<rect x="1694.3" y="504.7" width="17.6" height="51.8" fill="#cafce7"/>
<rect x="1720.2" y="445.1" width="17.6" height="111.4" fill="#2300fa"/>
<rect x="1746.1" y="532.7" width="17.6" height="23.8" fill="#1a00ff"/>
<rect x="1772.0" y="474.8" width="17.6" height="81.7" fill="#68a6fb"/>
<rect x="1797.8" y="462.7" width="17.6" height="93.8" fill="#97c4f8"/>
<rect x="1823.7" y="447.3" width="17.6" height="109.2" fill="#c8dff8"/>
<line x1="1730.2" y1="439.8" x2="1730.2" y2="451.5" stroke="#222" stroke-width="1.8"/>
<line x1="1725.9" y1="439.8" x2="1734.4" y2="439.8" stroke="#222" stroke-width="1.8"/>
<line x1="1725.9" y1="451.5" x2="1734.4" y2="451.5" stroke="#222" stroke-width="1.8"/>
<line x1="1780.6" y1="467.0" x2="1780.6" y2="481.8" stroke="#222" stroke-width="1.8"/>
<line x1="1776.4" y1="467.0" x2="1784.9" y2="467.0" stroke="#222" stroke-width="1.8"/>
<line x1="1776.4" y1="481.8" x2="1784.9" y2="481.8" stroke="#222" stroke-width="1.8"/>
<circle cx="1594.4" cy="514.1" r="3.8" fill="#333333"/>
<circle cx="1599.7" cy="510.1" r="3.8" fill="#333333"/>
<circle cx="1604.4" cy="511.1" r="3.8" fill="#333333"/>
<circle cx="1620.3" cy="546.8" r="3.8" fill="#333333"/>
<circle cx="1625.4" cy="546.8" r="3.8" fill="#333333"/>
<circle cx="1630.5" cy="546.8" r="3.8" fill="#333333"/>
<circle cx="1645.7" cy="515.1" r="3.8" fill="#333333"/>
<circle cx="1651.2" cy="510.1" r="3.8" fill="#333333"/>
<circle cx="1655.9" cy="511.5" r="3.8" fill="#333333"/>
<circle cx="1672.0" cy="516.8" r="3.8" fill="#333333"/>
<circle cx="1677.1" cy="516.4" r="3.8" fill="#333333"/>
<circle cx="1682.2" cy="516.8" r="3.8" fill="#333333"/>
<circle cx="1697.9" cy="502.6" r="3.8" fill="#333333"/>
<circle cx="1703.0" cy="499.2" r="3.8" fill="#333333"/>
<circle cx="1707.9" cy="502.0" r="3.8" fill="#333333"/>
<circle cx="1724.2" cy="440.0" r="3.8" fill="#333333"/>
<circle cx="1724.2" cy="450.0" r="3.8" fill="#333333"/>
<circle cx="1734.0" cy="446.4" r="3.8" fill="#333333"/>
<circle cx="1749.7" cy="530.6" r="3.8" fill="#333333"/>
<circle cx="1754.8" cy="530.0" r="3.8" fill="#333333"/>
<circle cx="1759.6" cy="530.2" r="3.8" fill="#333333"/>
<circle cx="1775.8" cy="470.2" r="3.8" fill="#333333"/>
<circle cx="1785.7" cy="470.2" r="3.8" fill="#333333"/>
<circle cx="1780.6" cy="482.3" r="3.8" fill="#333333"/>
<circle cx="1801.7" cy="462.1" r="3.8" fill="#333333"/>
<circle cx="1806.5" cy="458.1" r="3.8" fill="#333333"/>
<circle cx="1811.6" cy="461.0" r="3.8" fill="#333333"/>
<circle cx="1827.1" cy="447.3" r="3.8" fill="#333333"/>
<circle cx="1832.4" cy="442.6" r="3.8" fill="#333333"/>
<circle cx="1837.3" cy="445.1" r="3.8" fill="#333333"/>
<path d="M1655.5 445.1V427.3H1780.4V445.1" fill="none" stroke="#000" stroke-width="1.5" stroke-linejoin="miter"/>
<text x="1722.9" y="420.7" font-size="19" text-anchor="middle">ns</text>
<path d="M1683.9 389.1V371.5H1806.5V389.1" fill="none" stroke="#000" stroke-width="1.5" stroke-linejoin="miter"/>
<text x="1745.6" y="394.8" font-size="19" text-anchor="middle" letter-spacing="-0.7">***</text>
<path d="M1714.7 333.8V315.9H1836.9V333.8" fill="none" stroke="#000" stroke-width="1.5" stroke-linejoin="miter"/>
<text x="1775.3" y="339.0" font-size="19" text-anchor="middle" letter-spacing="-0.7">***</text>
<line x1="1290.4" y1="556.5" x2="1306.6" y2="556.5" stroke="#000" stroke-width="3.5"/>
<text x="1286.0" y="566.0" font-size="26" font-weight="bold" text-anchor="end">0</text>
<line x1="1290.4" y1="466.1" x2="1306.6" y2="466.1" stroke="#000" stroke-width="3.5"/>
<text x="1286.0" y="475.6" font-size="26" font-weight="bold" text-anchor="end">2</text>
<line x1="1290.4" y1="375.7" x2="1306.6" y2="375.7" stroke="#000" stroke-width="3.5"/>
<text x="1286.0" y="385.2" font-size="26" font-weight="bold" text-anchor="end">4</text>
<line x1="1290.4" y1="285.3" x2="1306.6" y2="285.3" stroke="#000" stroke-width="3.5"/>
<text x="1286.0" y="294.8" font-size="26" font-weight="bold" text-anchor="end">6</text>
<line x1="1290.4" y1="194.9" x2="1306.6" y2="194.9" stroke="#000" stroke-width="3.5"/>
<text x="1286.0" y="204.4" font-size="26" font-weight="bold" text-anchor="end">8</text>
<line x1="1306.6" y1="193.1" x2="1306.6" y2="558.2" stroke="#000" stroke-width="3.5"/>
<line x1="1290.4" y1="556.5" x2="1850.4" y2="556.5" stroke="#000" stroke-width="3.5"/>
<line x1="1439.3" y1="556.5" x2="1439.3" y2="570.6" stroke="#000" stroke-width="3.5"/>
<text x="1439.3" y="600.3" font-size="26.5" font-weight="bold" text-anchor="middle" letter-spacing="0.3">KLK3</text>
<line x1="1715.3" y1="556.5" x2="1715.3" y2="570.6" stroke="#000" stroke-width="3.5"/>
<text x="1715.3" y="600.3" font-size="26.5" font-weight="bold" text-anchor="middle" letter-spacing="0.3">TMPRSS2</text>
</g>
<g>
<text x="511.0" y="708.8" font-size="36" font-weight="bold">E</text>
<text x="796.0" y="752.5" font-size="34" font-weight="bold" text-anchor="middle" letter-spacing="0.3">C4-2</text>
<text x="550.0" y="980.0" font-size="29.4" font-weight="bold" text-anchor="middle" transform="rotate(-90 550.0 980.0)">Relative Cell Number</text>
<line x1="604.0" y1="1161.5" x2="619.0" y2="1161.5" stroke="#000" stroke-width="3.5"/>
<text x="598.0" y="1171.0" font-size="26" font-weight="bold" text-anchor="end">0</text>
<line x1="604.0" y1="1041.0" x2="619.0" y2="1041.0" stroke="#000" stroke-width="3.5"/>
<text x="598.0" y="1050.5" font-size="26" font-weight="bold" text-anchor="end">5</text>
<line x1="604.0" y1="920.5" x2="619.0" y2="920.5" stroke="#000" stroke-width="3.5"/>
<text x="598.0" y="930.0" font-size="26" font-weight="bold" text-anchor="end">10</text>
<line x1="604.0" y1="800.0" x2="619.0" y2="800.0" stroke="#000" stroke-width="3.5"/>
<text x="598.0" y="809.5" font-size="26" font-weight="bold" text-anchor="end">15</text>
<line x1="619.0" y1="798.2" x2="619.0" y2="1163.2" stroke="#000" stroke-width="3.5"/>
<line x1="604.0" y1="1161.5" x2="977.4" y2="1161.5" stroke="#000" stroke-width="3.5"/>
<line x1="663.4" y1="1161.5" x2="663.4" y2="1177.0" stroke="#000" stroke-width="3.5"/>
<text x="663.4" y="1207.0" font-size="26" font-weight="bold" text-anchor="middle">1</text>
<line x1="752.3" y1="1161.5" x2="752.3" y2="1177.0" stroke="#000" stroke-width="3.5"/>
<text x="752.3" y="1207.0" font-size="26" font-weight="bold" text-anchor="middle">2</text>
<line x1="842.0" y1="1161.5" x2="842.0" y2="1177.0" stroke="#000" stroke-width="3.5"/>
<text x="842.0" y="1207.0" font-size="26" font-weight="bold" text-anchor="middle">3</text>
<line x1="930.9" y1="1161.5" x2="930.9" y2="1177.0" stroke="#000" stroke-width="3.5"/>
<text x="930.9" y="1207.0" font-size="26" font-weight="bold" text-anchor="middle">4</text>
<text x="796.6" y="1249.0" font-size="29.4" font-weight="bold" text-anchor="middle">Days</text>
<line x1="842.0" y1="982.8" x2="842.0" y2="1034.6" stroke="#111" stroke-width="1.6"/>
<line x1="835.2" y1="982.8" x2="848.8" y2="982.8" stroke="#111" stroke-width="1.6"/>
<line x1="835.2" y1="1034.6" x2="848.8" y2="1034.6" stroke="#111" stroke-width="1.6"/>
<line x1="930.9" y1="855.6" x2="930.9" y2="891.3" stroke="#111" stroke-width="1.6"/>
<line x1="924.1" y1="855.6" x2="937.7" y2="855.6" stroke="#111" stroke-width="1.6"/>
<line x1="924.1" y1="891.3" x2="937.7" y2="891.3" stroke="#111" stroke-width="1.6"/>
<line x1="930.9" y1="1006.2" x2="930.9" y2="1025.4" stroke="#111" stroke-width="1.6"/>
<line x1="924.1" y1="1006.2" x2="937.7" y2="1006.2" stroke="#111" stroke-width="1.6"/>
<line x1="924.1" y1="1025.4" x2="937.7" y2="1025.4" stroke="#111" stroke-width="1.6"/>
<path d="M663.4 1139.3 L752.3 1130.8 L842.0 1054.4 L930.9 1016.3" fill="none" stroke="#cd3769" stroke-width="1.6"/>
<rect x="656.1" y="1132.0" width="14.6" height="14.6" fill="#cd3769"/>
<rect x="745.0" y="1123.5" width="14.6" height="14.6" fill="#cd3769"/>
<rect x="834.7" y="1047.1" width="14.6" height="14.6" fill="#cd3769"/>
<rect x="923.6" y="1009.0" width="14.6" height="14.6" fill="#cd3769"/>
<path d="M663.4 1138.7 L752.3 1121.3 L842.0 1008.7 L930.9 873.6" fill="none" stroke="#5bb89e" stroke-width="1.6"/>
<circle cx="663.4" cy="1138.7" r="7.3" fill="#5bb89e"/>
<circle cx="752.3" cy="1121.3" r="7.3" fill="#5bb89e"/>
<circle cx="842.0" cy="1008.7" r="7.3" fill="#5bb89e"/>
<circle cx="930.9" cy="873.6" r="7.3" fill="#5bb89e"/>
<line x1="671.3" y1="862.0" x2="709.2" y2="862.0" stroke="#5bb89e" stroke-width="1.6"/>
<circle cx="690.3" cy="862.0" r="7" fill="#5bb89e"/>
<line x1="671.3" y1="911.5" x2="709.2" y2="911.5" stroke="#cd3769" stroke-width="1.6"/>
<rect x="683.3" y="904.5" width="14.0" height="14.0" fill="#cd3769"/>
<text x="732.0" y="871.4" font-size="29.6">Vector</text>
<text x="732.0" y="920.3" font-size="27.9">shUHRF1</text>
<text x="663.4" y="1120.7" font-size="28.3" text-anchor="middle">ns</text>
<text x="752.3" y="1088.1" font-size="28.3" text-anchor="middle">ns</text>
<text x="838.0" y="966.5" font-size="28" text-anchor="middle" letter-spacing="2">***</text>
<text x="931.4" y="834.5" font-size="28" text-anchor="middle" letter-spacing="2">***</text>
</g>
<g>
<text x="1025.0" y="709.0" font-size="36" font-weight="bold">F</text>
<rect x="1229.0" y="687.0" width="35.0" height="16.5" fill="#5cb8a0" stroke="#000" stroke-width="3.5"/>
<rect x="1229.0" y="735.5" width="35.0" height="16.5" fill="#ca3869" stroke="#000" stroke-width="3.5"/>
<rect x="1486.0" y="687.0" width="35.0" height="16.5" fill="#7f9acb" stroke="#000" stroke-width="3.5"/>
<rect x="1486.0" y="735.5" width="35.0" height="16.5" fill="#7ead3f" stroke="#000" stroke-width="3.5"/>
<text x="1287.8" y="705.0" font-size="29.3">Control</text>
<text x="1287.8" y="753.7" font-size="29.3">Enz</text>
<text x="1545.3" y="705.0" font-size="29.8">shUHRF1</text>
<text x="1545.3" y="753.7" font-size="29.7">shUHRF1+Enz</text>
<text x="1030.0" y="987.7" font-size="29.8" font-weight="bold" text-anchor="middle" transform="rotate(-90 1030.0 987.7)">Relative Expression</text>
<rect x="1122.5" y="990.5" width="21.8" height="179.6" fill="#5cb8a0" stroke="#000" stroke-width="3.5"/>
<rect x="1159.8" y="885.6" width="21.8" height="284.6" fill="#ca3869" stroke="#000" stroke-width="3.5"/>
<rect x="1197.6" y="890.1" width="21.8" height="280.1" fill="#7f9acb" stroke="#000" stroke-width="3.5"/>
<rect x="1235.2" y="1006.8" width="21.8" height="163.3" fill="#7ead3f" stroke="#000" stroke-width="3.5"/>
<rect x="1297.8" y="989.4" width="21.8" height="180.8" fill="#5cb8a0" stroke="#000" stroke-width="3.5"/>
<rect x="1335.4" y="872.8" width="21.8" height="297.3" fill="#ca3869" stroke="#000" stroke-width="3.5"/>
<rect x="1372.8" y="1019.4" width="21.8" height="150.8" fill="#7f9acb" stroke="#000" stroke-width="3.5"/>
<rect x="1410.4" y="1005.2" width="21.8" height="165.0" fill="#7ead3f" stroke="#000" stroke-width="3.5"/>
<rect x="1472.7" y="985.8" width="21.8" height="184.3" fill="#5cb8a0" stroke="#000" stroke-width="3.5"/>
<rect x="1510.1" y="910.7" width="21.8" height="259.5" fill="#ca3869" stroke="#000" stroke-width="3.5"/>
<rect x="1547.5" y="1089.1" width="21.8" height="81.1" fill="#7f9acb" stroke="#000" stroke-width="3.5"/>
<rect x="1585.1" y="1040.6" width="21.8" height="129.5" fill="#7ead3f" stroke="#000" stroke-width="3.5"/>
<rect x="1647.3" y="991.0" width="21.8" height="179.1" fill="#5cb8a0" stroke="#000" stroke-width="3.5"/>
<rect x="1684.9" y="946.8" width="21.8" height="223.3" fill="#ca3869" stroke="#000" stroke-width="3.5"/>
<rect x="1722.4" y="994.1" width="21.8" height="176.1" fill="#7f9acb" stroke="#000" stroke-width="3.5"/>
<rect x="1760.0" y="1012.3" width="21.8" height="157.9" fill="#7ead3f" stroke="#000" stroke-width="3.5"/>
<rect x="1822.7" y="985.1" width="21.8" height="185.0" fill="#5cb8a0" stroke="#000" stroke-width="3.5"/>
<rect x="1860.0" y="919.6" width="21.8" height="250.5" fill="#ca3869" stroke="#000" stroke-width="3.5"/>
<rect x="1897.8" y="1141.8" width="21.8" height="28.3" fill="#7f9acb" stroke="#000" stroke-width="3.5"/>
<rect x="1935.2" y="1104.9" width="21.8" height="65.2" fill="#7ead3f" stroke="#000" stroke-width="3.5"/>
<line x1="1108.8" y1="806.6" x2="1108.8" y2="1171.9" stroke="#000" stroke-width="3.8"/>
<line x1="1092.2" y1="1170.0" x2="1972.6" y2="1170.0" stroke="#000" stroke-width="3.8"/>
<line x1="1092.2" y1="1170.0" x2="1108.8" y2="1170.0" stroke="#000" stroke-width="3.8"/>
<text x="1087.0" y="1179.0" font-size="25" font-weight="bold" text-anchor="end">0.0</text>
<line x1="1092.2" y1="1079.6" x2="1108.8" y2="1079.6" stroke="#000" stroke-width="3.8"/>
<text x="1087.0" y="1088.6" font-size="25" font-weight="bold" text-anchor="end">0.5</text>
<line x1="1092.2" y1="989.2" x2="1108.8" y2="989.2" stroke="#000" stroke-width="3.8"/>
<text x="1087.0" y="998.2" font-size="25" font-weight="bold" text-anchor="end">1.0</text>
<line x1="1092.2" y1="898.9" x2="1108.8" y2="898.9" stroke="#000" stroke-width="3.8"/>
<text x="1087.0" y="907.9" font-size="25" font-weight="bold" text-anchor="end">1.5</text>
<line x1="1092.2" y1="808.5" x2="1108.8" y2="808.5" stroke="#000" stroke-width="3.8"/>
<text x="1087.0" y="817.5" font-size="25" font-weight="bold" text-anchor="end">2.0</text>
<line x1="1188.4" y1="1170.0" x2="1188.4" y2="1184.8" stroke="#000" stroke-width="3.8"/>
<text x="1188.4" y="1215.6" font-size="26.5" font-weight="bold" text-anchor="middle" letter-spacing="0.4">AR</text>
<line x1="1363.5" y1="1170.0" x2="1363.5" y2="1184.8" stroke="#000" stroke-width="3.8"/>
<text x="1363.5" y="1215.6" font-size="26.5" font-weight="bold" text-anchor="middle" letter-spacing="0.4">NMYC</text>
<line x1="1539.2" y1="1170.0" x2="1539.2" y2="1184.8" stroke="#000" stroke-width="3.8"/>
<text x="1539.2" y="1215.6" font-size="26.5" font-weight="bold" text-anchor="middle" letter-spacing="0.4">SYP</text>
<line x1="1713.8" y1="1170.0" x2="1713.8" y2="1184.8" stroke="#000" stroke-width="3.8"/>
<text x="1713.8" y="1215.6" font-size="26.5" font-weight="bold" text-anchor="middle" letter-spacing="0.4">NSE</text>
<line x1="1889.2" y1="1170.0" x2="1889.2" y2="1184.8" stroke="#000" stroke-width="3.8"/>
<text x="1889.2" y="1215.6" font-size="26.5" font-weight="bold" text-anchor="middle" letter-spacing="0.4">UHRF1</text>
<text x="1539.0" y="1262.7" font-size="30" font-weight="bold" text-anchor="middle">Target Gene</text>
<line x1="1133.3" y1="973.9" x2="1133.3" y2="989.3" stroke="#222" stroke-width="1.6"/>
<line x1="1127.5" y1="973.9" x2="1139.1" y2="973.9" stroke="#222" stroke-width="1.6"/>
<circle cx="1126.6" cy="978.6" r="5.9" fill="#333333"/>
<circle cx="1140.3" cy="982.6" r="5.9" fill="#333333"/>
<circle cx="1133.3" cy="1006.5" r="5.9" fill="#333333"/>
<line x1="1170.8" y1="858.1" x2="1170.8" y2="884.3" stroke="#222" stroke-width="1.6"/>
<line x1="1165.0" y1="858.1" x2="1176.6" y2="858.1" stroke="#222" stroke-width="1.6"/>
<rect x="1165.2" y="852.5" width="11.2" height="11.2" fill="#333333"/>
<rect x="1165.2" y="881.3" width="11.2" height="11.2" fill="#333333"/>
<rect x="1165.2" y="900.9" width="11.2" height="11.2" fill="#333333"/>
<line x1="1208.4" y1="872.7" x2="1208.4" y2="888.8" stroke="#222" stroke-width="1.6"/>
<line x1="1202.6" y1="872.7" x2="1214.2" y2="872.7" stroke="#222" stroke-width="1.6"/>
<path d="M1202.6 873.5L1214.2 873.5L1208.4 863.3Z" fill="#333333" stroke="none" stroke-width="0"/>
<path d="M1196.0 908.5L1207.6 908.5L1201.8 898.3Z" fill="#333333" stroke="none" stroke-width="0"/>
<path d="M1209.5 900.2L1221.1 900.2L1215.3 890.0Z" fill="#333333" stroke="none" stroke-width="0"/>
<line x1="1246.0" y1="998.7" x2="1246.0" y2="1005.6" stroke="#222" stroke-width="1.6"/>
<line x1="1240.2" y1="998.7" x2="1251.8" y2="998.7" stroke="#222" stroke-width="1.6"/>
<path d="M1233.1 1005.3L1244.7 1005.3L1238.9 1015.5Z" fill="#333333" stroke="none" stroke-width="0"/>
<path d="M1240.7 998.2L1252.3 998.2L1246.5 1008.4Z" fill="#333333" stroke="none" stroke-width="0"/>
<path d="M1247.3 998.2L1258.9 998.2L1253.1 1008.4Z" fill="#333333" stroke="none" stroke-width="0"/>
<line x1="1308.4" y1="957.8" x2="1308.4" y2="988.1" stroke="#222" stroke-width="1.6"/>
<line x1="1302.6" y1="957.8" x2="1314.2" y2="957.8" stroke="#222" stroke-width="1.6"/>
<circle cx="1308.4" cy="953.3" r="5.9" fill="#333333"/>
<circle cx="1301.5" cy="1009.4" r="5.9" fill="#333333"/>
<circle cx="1315.0" cy="1000.6" r="5.9" fill="#333333"/>
<line x1="1346.0" y1="833.7" x2="1346.0" y2="871.6" stroke="#222" stroke-width="1.6"/>
<line x1="1340.2" y1="833.7" x2="1351.8" y2="833.7" stroke="#222" stroke-width="1.6"/>
<rect x="1340.4" y="837.1" width="11.2" height="11.2" fill="#333333"/>
<rect x="1340.4" y="850.8" width="11.2" height="11.2" fill="#333333"/>
<rect x="1340.4" y="908.5" width="11.2" height="11.2" fill="#333333"/>
<line x1="1383.3" y1="992.8" x2="1383.3" y2="1018.1" stroke="#222" stroke-width="1.6"/>
<line x1="1377.5" y1="992.8" x2="1389.1" y2="992.8" stroke="#222" stroke-width="1.6"/>
<path d="M1377.5 1005.9L1389.1 1005.9L1383.3 995.7Z" fill="#333333" stroke="none" stroke-width="0"/>
<path d="M1377.5 1040.9L1389.1 1040.9L1383.3 1030.7Z" fill="#333333" stroke="none" stroke-width="0"/>
<line x1="1420.9" y1="968.0" x2="1420.9" y2="1003.9" stroke="#222" stroke-width="1.6"/>
<line x1="1415.1" y1="968.0" x2="1426.7" y2="968.0" stroke="#222" stroke-width="1.6"/>
<path d="M1415.1 957.3L1426.7 957.3L1420.9 967.5Z" fill="#333333" stroke="none" stroke-width="0"/>
<path d="M1421.7 1013.3L1433.3 1013.3L1427.5 1023.5Z" fill="#333333" stroke="none" stroke-width="0"/>
<path d="M1408.0 1023.5L1419.6 1023.5L1413.8 1033.7Z" fill="#333333" stroke="none" stroke-width="0"/>
<line x1="1483.3" y1="928.3" x2="1483.3" y2="984.5" stroke="#222" stroke-width="1.6"/>
<line x1="1477.5" y1="928.3" x2="1489.1" y2="928.3" stroke="#222" stroke-width="1.6"/>
<circle cx="1483.3" cy="920.2" r="5.9" fill="#333333"/>
<circle cx="1483.3" cy="1008.6" r="5.9" fill="#333333"/>
<circle cx="1483.3" cy="1023.5" r="5.9" fill="#333333"/>
<line x1="1520.6" y1="895.2" x2="1520.6" y2="909.4" stroke="#222" stroke-width="1.6"/>
<line x1="1514.8" y1="895.2" x2="1526.4" y2="895.2" stroke="#222" stroke-width="1.6"/>
<rect x="1515.0" y="889.6" width="11.2" height="11.2" fill="#333333"/>
<rect x="1515.0" y="902.1" width="11.2" height="11.2" fill="#333333"/>
<rect x="1515.0" y="918.7" width="11.2" height="11.2" fill="#333333"/>
<line x1="1558.3" y1="1073.6" x2="1558.3" y2="1087.8" stroke="#222" stroke-width="1.6"/>
<line x1="1552.5" y1="1073.6" x2="1564.1" y2="1073.6" stroke="#222" stroke-width="1.6"/>
<path d="M1545.9 1082.7L1557.5 1082.7L1551.7 1072.5Z" fill="#333333" stroke="none" stroke-width="0"/>
<path d="M1559.4 1087.4L1571.0 1087.4L1565.2 1077.2Z" fill="#333333" stroke="none" stroke-width="0"/>
<path d="M1552.5 1108.2L1564.1 1108.2L1558.3 1098.0Z" fill="#333333" stroke="none" stroke-width="0"/>
<line x1="1595.7" y1="1002.7" x2="1595.7" y2="1039.4" stroke="#222" stroke-width="1.6"/>
<line x1="1589.9" y1="1002.7" x2="1601.5" y2="1002.7" stroke="#222" stroke-width="1.6"/>
<path d="M1583.0 1008.6L1594.6 1008.6L1588.8 1018.8Z" fill="#333333" stroke="none" stroke-width="0"/>
<path d="M1596.7 1017.5L1608.3 1017.5L1602.5 1027.7Z" fill="#333333" stroke="none" stroke-width="0"/>
<path d="M1589.9 1073.8L1601.5 1073.8L1595.7 1084.0Z" fill="#333333" stroke="none" stroke-width="0"/>
<line x1="1658.3" y1="975.6" x2="1658.3" y2="989.7" stroke="#222" stroke-width="1.6"/>
<line x1="1652.5" y1="975.6" x2="1664.1" y2="975.6" stroke="#222" stroke-width="1.6"/>
<circle cx="1651.4" cy="977.0" r="5.9" fill="#333333"/>
<circle cx="1665.4" cy="986.4" r="5.9" fill="#333333"/>
<circle cx="1658.3" cy="1003.4" r="5.9" fill="#333333"/>
<line x1="1695.6" y1="907.7" x2="1695.6" y2="945.5" stroke="#222" stroke-width="1.6"/>
<line x1="1689.8" y1="907.7" x2="1701.4" y2="907.7" stroke="#222" stroke-width="1.6"/>
<rect x="1690.0" y="906.8" width="11.2" height="11.2" fill="#333333"/>
<rect x="1690.0" y="932.1" width="11.2" height="11.2" fill="#333333"/>
<rect x="1690.0" y="977.8" width="11.2" height="11.2" fill="#333333"/>
<line x1="1733.0" y1="968.5" x2="1733.0" y2="992.8" stroke="#222" stroke-width="1.6"/>
<line x1="1727.2" y1="968.5" x2="1738.8" y2="968.5" stroke="#222" stroke-width="1.6"/>
<path d="M1727.2 973.3L1738.8 973.3L1733.0 963.1Z" fill="#333333" stroke="none" stroke-width="0"/>
<path d="M1720.6 1011.3L1732.2 1011.3L1726.4 1001.1Z" fill="#333333" stroke="none" stroke-width="0"/>
<path d="M1734.3 1007.1L1745.9 1007.1L1740.1 996.9Z" fill="#333333" stroke="none" stroke-width="0"/>
<line x1="1770.8" y1="1002.3" x2="1770.8" y2="1011.0" stroke="#222" stroke-width="1.6"/>
<line x1="1765.0" y1="1002.3" x2="1776.6" y2="1002.3" stroke="#222" stroke-width="1.6"/>
<path d="M1757.9 1008.6L1769.5 1008.6L1763.7 1018.8Z" fill="#333333" stroke="none" stroke-width="0"/>
<path d="M1765.0 1002.2L1776.6 1002.2L1770.8 1012.4Z" fill="#333333" stroke="none" stroke-width="0"/>
<path d="M1771.6 1002.9L1783.2 1002.9L1777.4 1013.1Z" fill="#333333" stroke="none" stroke-width="0"/>
<line x1="1833.0" y1="926.2" x2="1833.0" y2="983.8" stroke="#222" stroke-width="1.6"/>
<line x1="1827.2" y1="926.2" x2="1838.8" y2="926.2" stroke="#222" stroke-width="1.6"/>
<circle cx="1833.0" cy="930.6" r="5.9" fill="#333333"/>
<circle cx="1833.0" cy="976.3" r="5.9" fill="#333333"/>
<circle cx="1833.0" cy="1043.1" r="5.9" fill="#333333"/>
<line x1="1870.5" y1="873.9" x2="1870.5" y2="918.4" stroke="#222" stroke-width="1.6"/>
<line x1="1864.7" y1="873.9" x2="1876.3" y2="873.9" stroke="#222" stroke-width="1.6"/>
<rect x="1864.9" y="868.3" width="11.2" height="11.2" fill="#333333"/>
<rect x="1857.9" y="935.2" width="11.2" height="11.2" fill="#333333"/>
<rect x="1871.6" y="932.8" width="11.2" height="11.2" fill="#333333"/>
<line x1="1908.4" y1="1126.3" x2="1908.4" y2="1140.5" stroke="#222" stroke-width="1.6"/>
<line x1="1902.6" y1="1126.3" x2="1914.2" y2="1126.3" stroke="#222" stroke-width="1.6"/>
<path d="M1902.6 1135.4L1914.2 1135.4L1908.4 1125.2Z" fill="#333333" stroke="none" stroke-width="0"/>
<path d="M1895.9 1153.6L1907.5 1153.6L1901.7 1143.4Z" fill="#333333" stroke="none" stroke-width="0"/>
<path d="M1909.2 1147.7L1920.8 1147.7L1915.0 1137.5Z" fill="#333333" stroke="none" stroke-width="0"/>
<line x1="1945.7" y1="1076.0" x2="1945.7" y2="1103.7" stroke="#222" stroke-width="1.6"/>
<line x1="1939.9" y1="1076.0" x2="1951.5" y2="1076.0" stroke="#222" stroke-width="1.6"/>
<path d="M1932.8 1077.1L1944.4 1077.1L1938.6 1087.3Z" fill="#333333" stroke="none" stroke-width="0"/>
<path d="M1946.5 1087.3L1958.1 1087.3L1952.3 1097.5Z" fill="#333333" stroke="none" stroke-width="0"/>
<path d="M1939.9 1128.2L1951.5 1128.2L1945.7 1138.4Z" fill="#333333" stroke="none" stroke-width="0"/>
<path d="M1174.1 827.4V804.9H1244.3V979.1" fill="none" stroke="#000" stroke-width="3.2" stroke-linejoin="miter"/>
<text x="1213.2" y="801.8" font-size="44" font-weight="bold" text-anchor="middle" letter-spacing="4.5">***</text>
<path d="M1348.3 827.4V804.9H1418.8V925.4" fill="none" stroke="#000" stroke-width="3.2" stroke-linejoin="miter"/>
<text x="1387.9" y="801.8" font-size="44" font-weight="bold" text-anchor="middle" letter-spacing="4.5">***</text>
<path d="M1518.7 875.0V852.2H1593.5V986.9" fill="none" stroke="#000" stroke-width="3.2" stroke-linejoin="miter"/>
<text x="1560.3" y="849.5" font-size="44" font-weight="bold" text-anchor="middle" letter-spacing="4.5">***</text>
<path d="M1694.0 885.3V863.5H1775.5V986.9" fill="none" stroke="#000" stroke-width="3.2" stroke-linejoin="miter"/>
<text x="1738.3" y="860.9" font-size="44" font-weight="bold" text-anchor="middle" letter-spacing="4.5">***</text>
<path d="M1870.5 863.5V841.5H1944.8V1046.7" fill="none" stroke="#000" stroke-width="3.2" stroke-linejoin="miter"/>
<text x="1911.3" y="838.9" font-size="44" font-weight="bold" text-anchor="middle" letter-spacing="4.5">***</text>
</g>
<g>
<text x="28.3" y="1340.6" font-size="36.5" font-weight="bold">G</text>
<text x="389.8" y="1345.0" font-size="29.7" font-weight="bold" text-anchor="middle" fill="#333333">Volcano plot</text>
<rect x="111.1" y="1373.3" width="557.7" height="558.5" fill="#fff"/>
<line x1="127.1" y1="1373.3" x2="127.1" y2="1931.8" stroke="#ebebeb" stroke-width="1.3"/>
<line x1="232.6" y1="1373.3" x2="232.6" y2="1931.8" stroke="#ebebeb" stroke-width="1.3"/>
<line x1="338.1" y1="1373.3" x2="338.1" y2="1931.8" stroke="#ebebeb" stroke-width="1.3"/>
<line x1="443.6" y1="1373.3" x2="443.6" y2="1931.8" stroke="#ebebeb" stroke-width="1.3"/>
<line x1="549.1" y1="1373.3" x2="549.1" y2="1931.8" stroke="#ebebeb" stroke-width="1.3"/>
<line x1="654.6" y1="1373.3" x2="654.6" y2="1931.8" stroke="#ebebeb" stroke-width="1.3"/>
<line x1="111.1" y1="1837.2" x2="668.8" y2="1837.2" stroke="#ebebeb" stroke-width="1.3"/>
<line x1="111.1" y1="1656.2" x2="668.8" y2="1656.2" stroke="#ebebeb" stroke-width="1.3"/>
<line x1="111.1" y1="1475.2" x2="668.8" y2="1475.2" stroke="#ebebeb" stroke-width="1.3"/>
<line x1="179.9" y1="1373.3" x2="179.9" y2="1931.8" stroke="#ebebeb" stroke-width="2.7"/>
<line x1="285.4" y1="1373.3" x2="285.4" y2="1931.8" stroke="#ebebeb" stroke-width="2.7"/>
<line x1="390.9" y1="1373.3" x2="390.9" y2="1931.8" stroke="#ebebeb" stroke-width="2.7"/>
<line x1="496.4" y1="1373.3" x2="496.4" y2="1931.8" stroke="#ebebeb" stroke-width="2.7"/>
<line x1="601.9" y1="1373.3" x2="601.9" y2="1931.8" stroke="#ebebeb" stroke-width="2.7"/>
<line x1="111.1" y1="1927.7" x2="668.8" y2="1927.7" stroke="#ebebeb" stroke-width="2.7"/>
<line x1="111.1" y1="1746.7" x2="668.8" y2="1746.7" stroke="#ebebeb" stroke-width="2.7"/>
<line x1="111.1" y1="1565.7" x2="668.8" y2="1565.7" stroke="#ebebeb" stroke-width="2.7"/>
<line x1="111.1" y1="1384.7" x2="668.8" y2="1384.7" stroke="#ebebeb" stroke-width="2.7"/>
<path d="M411.6 1917.5h0M371.5 1898.5h0M374.8 1908.8h0M410.9 1869.6h0M409.1 1890.6h0M406.4 1883.0h0M409.7 1917.2h0M379.0 1891.0h0M375.8 1907.4h0M397.3 1907.4h0M370.3 1895.1h0M398.4 1909.3h0M383.0 1907.5h0M403.4 1873.1h0M372.5 1917.6h0M396.8 1918.6h0M385.2 1908.1h0M400.5 1907.4h0M389.3 1911.5h0M370.4 1872.8h0M373.6 1865.8h0M376.0 1899.5h0M374.4 1878.9h0M378.1 1915.1h0M390.2 1922.4h0M408.9 1889.1h0M408.0 1865.9h0M404.6 1911.7h0M403.0 1905.6h0M404.8 1909.5h0M379.0 1887.9h0M375.0 1903.1h0M371.5 1871.7h0M401.8 1923.9h0M405.2 1916.0h0M370.8 1866.1h0M389.1 1909.8h0M389.8 1917.0h0M375.2 1884.8h0M373.7 1883.7h0M391.3 1923.6h0M396.7 1919.5h0M391.4 1922.3h0M409.9 1914.1h0M408.5 1911.3h0M372.6 1892.8h0M401.7 1911.9h0M407.6 1900.3h0M404.2 1913.4h0M378.6 1901.5h0M371.4 1909.6h0M374.7 1874.9h0M406.6 1872.4h0M403.5 1901.3h0M411.6 1870.2h0M388.5 1910.1h0M401.2 1922.9h0M404.4 1902.4h0M383.0 1927.5h0M371.2 1912.8h0M375.4 1905.1h0M397.4 1925.5h0M369.9 1892.4h0M374.3 1892.1h0M394.7 1907.4h0M380.1 1912.8h0M373.8 1864.2h0M370.3 1863.5h0M409.3 1854.7h0M371.7 1874.8h0M370.3 1872.9h0M409.5 1913.5h0M404.1 1910.3h0M382.9 1897.8h0M401.2 1881.4h0M401.1 1882.7h0M379.3 1917.2h0M379.6 1923.8h0M399.8 1901.2h0M403.1 1875.6h0M410.5 1906.1h0M406.9 1926.2h0M380.8 1904.2h0M401.3 1895.2h0M406.9 1895.0h0M375.9 1925.0h0M384.4 1913.6h0M371.0 1923.6h0M372.6 1868.9h0M374.3 1907.2h0M374.5 1924.3h0M396.5 1899.1h0M374.0 1918.0h0M401.8 1907.3h0M370.7 1902.1h0M410.5 1877.6h0M405.7 1866.2h0M371.1 1886.6h0M406.2 1918.7h0M404.4 1910.7h0M369.9 1907.6h0M370.0 1878.8h0M377.6 1878.5h0M381.8 1906.3h0M407.4 1919.1h0M407.3 1925.2h0M378.5 1901.5h0M407.8 1877.8h0M377.0 1884.0h0M375.1 1881.7h0M407.2 1904.0h0M377.9 1897.7h0M376.3 1912.2h0M380.2 1895.2h0M391.8 1911.7h0M383.6 1908.9h0M411.0 1855.2h0M374.1 1889.4h0M411.3 1848.6h0M400.7 1884.4h0M374.3 1907.1h0M386.2 1924.3h0M408.1 1884.9h0M373.9 1885.9h0M396.4 1902.8h0M402.6 1889.0h0M371.4 1873.6h0M409.5 1876.0h0M374.1 1870.5h0M404.8 1875.8h0M384.8 1922.1h0M370.4 1886.0h0M384.7 1901.3h0M409.5 1875.2h0M386.3 1906.6h0M392.9 1915.2h0M405.0 1892.4h0M405.7 1901.1h0M385.7 1902.5h0M387.8 1909.2h0M369.9 1855.8h0M381.7 1903.3h0M396.5 1926.2h0M397.5 1902.8h0M374.1 1913.5h0M384.4 1912.5h0M379.7 1913.8h0M390.6 1921.9h0M389.5 1913.3h0M410.3 1920.2h0M371.0 1867.0h0M407.7 1924.3h0M378.7 1884.4h0M404.7 1898.5h0M404.7 1887.5h0M371.5 1855.8h0M407.2 1873.4h0M371.9 1897.8h0M370.1 1908.8h0M408.7 1867.1h0M408.2 1866.8h0M398.5 1906.5h0M402.0 1917.6h0M377.5 1924.0h0M372.1 1871.2h0M371.5 1915.9h0M404.0 1870.4h0M408.6 1883.3h0M370.4 1889.2h0M411.2 1880.4h0M387.2 1917.5h0M397.0 1906.6h0M376.2 1926.2h0M370.0 1859.6h0M375.2 1925.9h0M400.2 1903.6h0M400.8 1909.0h0M400.6 1919.3h0M400.1 1926.6h0M370.4 1862.9h0M404.3 1919.8h0M390.3 1921.7h0M409.7 1849.6h0M411.0 1844.9h0M403.9 1899.5h0M369.9 1901.5h0M384.4 1919.2h0M409.1 1904.4h0M403.2 1881.9h0M402.4 1904.5h0M407.2 1875.7h0M377.8 1908.6h0M376.1 1923.3h0M411.9 1890.5h0M374.3 1864.7h0M403.0 1912.2h0M391.7 1925.7h0M406.3 1879.3h0M402.7 1885.3h0M409.7 1851.3h0M380.5 1923.9h0M378.3 1909.7h0M373.3 1922.6h0M408.2 1921.3h0M388.7 1911.8h0M379.2 1923.9h0M380.6 1892.7h0M405.1 1923.0h0M372.2 1913.3h0M398.4 1898.0h0M374.2 1895.5h0M380.6 1915.3h0M390.1 1910.9h0M379.9 1913.4h0M398.4 1926.4h0M400.1 1908.3h0M375.7 1883.2h0M405.3 1865.1h0M404.5 1880.2h0M396.3 1913.5h0M379.2 1922.1h0M376.4 1900.7h0M405.2 1894.4h0M376.9 1878.8h0M398.0 1906.7h0M380.7 1907.6h0M411.9 1835.6h0M373.9 1898.9h0M407.6 1922.0h0M400.5 1898.5h0M411.1 1926.1h0M403.9 1893.8h0M375.7 1927.5h0M404.9 1875.3h0M377.6 1884.4h0M408.3 1906.0h0M393.9 1914.0h0M399.8 1908.1h0M373.1 1919.0h0M381.4 1907.2h0M404.0 1869.7h0M378.3 1921.2h0M400.7 1887.1h0M400.3 1922.2h0M404.0 1894.3h0M390.6 1926.2h0M408.2 1880.3h0M406.6 1901.2h0M385.3 1911.4h0M370.0 1876.0h0M410.1 1878.4h0M392.5 1925.6h0M410.6 1905.4h0M377.5 1917.5h0M371.1 1918.1h0M399.3 1908.3h0M370.5 1868.0h0M399.5 1917.5h0M371.7 1915.5h0M381.6 1915.6h0M386.9 1914.1h0M401.3 1911.3h0M405.2 1875.4h0M402.6 1894.0h0M379.9 1894.3h0M372.1 1876.2h0M392.2 1920.8h0M370.7 1913.8h0M410.7 1850.4h0M409.3 1864.7h0M407.1 1924.3h0M396.9 1901.2h0M398.4 1900.5h0M396.0 1902.8h0M409.9 1899.1h0M374.9 1868.5h0M410.1 1876.6h0M392.3 1912.9h0M375.0 1914.6h0M382.0 1903.5h0M373.5 1873.3h0M405.2 1867.0h0M382.9 1903.6h0M370.3 1892.6h0M406.2 1904.0h0M376.5 1921.1h0M406.6 1883.9h0M372.4 1889.1h0M374.4 1905.3h0M410.3 1854.2h0M376.3 1894.2h0M404.5 1876.2h0M401.9 1880.4h0M408.4 1915.0h0M406.5 1927.3h0M400.3 1898.5h0M377.6 1897.4h0M375.9 1870.4h0M394.3 1918.9h0M408.6 1895.5h0M410.3 1907.4h0M370.3 1923.0h0M408.6 1850.7h0M374.0 1890.4h0M410.5 1879.2h0M411.8 1893.5h0M377.0 1896.0h0M411.1 1845.5h0M391.4 1916.7h0M407.5 1859.0h0M407.3 1885.8h0M376.4 1898.8h0M377.7 1909.5h0M396.7 1923.5h0M370.0 1897.4h0M405.3 1869.3h0M398.0 1908.1h0M374.9 1912.1h0M401.9 1917.1h0M374.0 1910.7h0M372.4 1926.5h0M402.3 1895.6h0M400.0 1892.5h0M376.9 1901.2h0M380.3 1923.3h0M404.2 1897.5h0M380.1 1888.9h0M400.1 1905.7h0M380.1 1910.4h0M384.9 1909.1h0M410.8 1898.8h0M393.5 1916.3h0M386.8 1921.2h0M384.6 1903.3h0M377.9 1899.5h0M379.8 1924.2h0M397.8 1893.7h0M373.7 1900.9h0M405.0 1915.0h0M403.8 1911.8h0M388.9 1914.7h0M399.6 1901.7h0M407.8 1869.2h0M385.3 1903.2h0M395.5 1906.5h0M406.6 1915.5h0M386.3 1919.1h0M374.4 1871.8h0M382.3 1921.1h0M382.9 1905.2h0M375.4 1900.2h0M371.0 1860.0h0M399.3 1903.0h0M405.5 1892.6h0M396.3 1909.6h0M371.5 1923.7h0M376.6 1908.0h0M371.5 1896.7h0M396.7 1909.8h0M405.2 1870.9h0M400.0 1902.3h0M384.5 1927.6h0M381.9 1923.4h0M405.8 1867.2h0M371.8 1903.4h0M401.4 1919.1h0M381.7 1918.7h0M409.7 1885.5h0M409.1 1858.8h0M372.1 1858.2h0M409.0 1915.0h0M402.0 1923.4h0M410.7 1864.2h0M372.3 1892.1h0M387.2 1907.6h0M382.9 1914.1h0M379.8 1903.6h0M409.3 1892.7h0M375.8 1871.6h0M374.6 1898.9h0M385.0 1907.1h0M372.3 1899.7h0M388.7 1916.5h0M385.1 1911.0h0M372.8 1926.6h0M411.7 1853.0h0M411.2 1871.6h0M374.4 1879.0h0M388.1 1908.8h0M392.7 1926.9h0M408.6 1863.5h0M397.3 1902.7h0M380.2 1913.9h0M405.2 1898.2h0M383.6 1909.3h0M404.6 1895.8h0M379.9 1923.6h0M376.4 1897.9h0M394.3 1919.7h0M398.8 1911.4h0M373.6 1923.7h0M388.3 1908.7h0M400.3 1927.4h0M403.0 1885.3h0M407.9 1911.3h0M378.0 1919.2h0M410.4 1866.0h0M404.0 1921.7h0M410.0 1879.8h0M397.1 1897.9h0M371.0 1908.9h0M373.4 1861.9h0M374.6 1909.7h0M407.4 1873.1h0M380.5 1918.2h0M374.6 1876.6h0M394.6 1919.7h0M387.0 1920.4h0M401.7 1916.3h0M411.6 1855.9h0M386.3 1910.7h0M410.3 1871.7h0M402.5 1914.1h0M402.6 1922.0h0M379.8 1890.6h0M370.4 1868.5h0M378.8 1897.8h0M407.3 1865.9h0M406.6 1871.7h0M375.0 1890.6h0M400.3 1923.4h0M395.3 1917.8h0M398.3 1902.4h0M378.0 1883.2h0M405.2 1869.8h0M374.6 1925.6h0M385.9 1913.3h0M406.7 1874.1h0M409.8 1926.3h0M384.2 1912.7h0M403.6 1924.2h0M389.9 1911.9h0M405.5 1888.5h0M406.6 1866.9h0M373.0 1894.9h0M394.7 1923.4h0M377.0 1891.8h0M370.1 1870.0h0M383.9 1925.7h0M371.7 1913.2h0M398.1 1900.6h0M411.7 1924.3h0M409.4 1859.9h0M372.4 1894.1h0M380.1 1904.3h0M384.5 1914.2h0M376.9 1921.1h0M382.5 1897.0h0M409.4 1893.8h0M408.7 1869.6h0M373.2 1909.9h0M372.7 1879.5h0M407.7 1900.2h0M380.7 1925.4h0M376.7 1901.0h0M399.5 1906.0h0M386.7 1907.8h0M397.1 1908.1h0M395.2 1919.8h0M384.2 1914.1h0M406.7 1864.0h0M408.7 1906.6h0M398.5 1894.1h0M372.2 1886.5h0M371.7 1865.4h0M389.4 1926.3h0M408.8 1871.5h0M411.5 1922.1h0M383.7 1918.4h0M376.4 1913.5h0M402.2 1918.8h0M404.2 1885.6h0M401.1 1902.0h0M402.5 1896.9h0M375.4 1926.8h0M402.5 1891.6h0M411.6 1905.0h0M401.7 1918.7h0M371.0 1914.3h0M372.3 1877.7h0M393.2 1909.6h0M409.5 1891.3h0M376.1 1910.0h0M376.6 1924.8h0M402.6 1903.6h0M411.3 1878.0h0M403.6 1881.9h0M372.6 1863.4h0M372.3 1871.5h0M409.7 1865.3h0M379.3 1902.6h0M379.6 1907.5h0M406.5 1901.1h0M381.7 1894.7h0M406.2 1909.6h0M382.4 1925.3h0M373.9 1910.9h0M398.6 1918.7h0M411.1 1924.4h0M398.9 1923.9h0M388.0 1917.3h0M374.9 1879.2h0M375.5 1885.0h0M390.9 1916.5h0M408.6 1892.9h0M381.3 1910.1h0M381.0 1920.8h0M371.6 1877.1h0M385.1 1926.6h0M387.1 1913.5h0M411.9 1927.2h0M385.7 1903.7h0M378.2 1916.1h0M408.1 1922.8h0M399.1 1895.4h0M369.8 1853.4h0M405.8 1876.9h0M401.2 1890.0h0M399.9 1888.5h0M398.4 1895.6h0M379.1 1913.6h0M408.9 1875.1h0M404.1 1903.9h0M406.4 1923.4h0M404.3 1915.5h0M376.3 1902.7h0M374.1 1892.2h0M403.7 1875.8h0M388.9 1918.9h0M401.8 1912.8h0M385.9 1925.9h0M372.2 1909.9h0M400.1 1900.4h0M383.5 1903.6h0M405.0 1918.6h0M378.3 1885.6h0M385.5 1923.3h0M399.9 1898.3h0M404.0 1892.6h0M408.8 1908.6h0M410.8 1856.8h0M383.7 1920.7h0M401.7 1889.9h0M407.8 1852.3h0M370.9 1868.7h0M405.2 1886.4h0M386.8 1923.7h0M374.8 1905.7h0M374.1 1918.9h0M372.1 1859.9h0M372.1 1858.9h0M411.9 1846.4h0M406.6 1913.2h0M381.4 1901.6h0M383.0 1902.3h0M406.0 1872.4h0M372.0 1897.4h0M406.0 1902.1h0M378.3 1922.5h0M403.6 1907.8h0M408.6 1872.3h0M372.0 1896.4h0M372.2 1884.5h0M396.8 1922.8h0M406.2 1920.5h0M395.0 1909.8h0M408.7 1871.8h0M403.6 1878.1h0M382.2 1906.7h0M405.2 1913.2h0M408.5 1907.1h0M374.1 1918.2h0M398.7 1912.3h0M372.2 1858.4h0M382.2 1904.5h0M393.5 1912.4h0M408.3 1895.4h0M405.3 1912.6h0M386.3 1924.4h0M373.7 1881.5h0M400.5 1884.9h0M398.4 1916.3h0M404.8 1915.5h0M409.4 1875.3h0M382.1 1893.1h0M409.0 1918.4h0M373.5 1913.8h0M405.5 1905.1h0M408.8 1924.5h0M397.5 1922.7h0M382.4 1920.8h0M393.4 1918.2h0M371.2 1876.6h0M373.9 1863.3h0M375.4 1870.2h0M397.8 1911.4h0M406.7 1879.9h0M376.1 1918.3h0M406.9 1916.0h0M374.8 1881.1h0M376.7 1874.4h0M378.1 1887.5h0M378.4 1915.0h0M376.3 1901.4h0M371.1 1888.6h0M407.4 1919.3h0M399.8 1921.5h0M411.3 1923.6h0M404.2 1893.6h0M404.0 1881.7h0M408.7 1926.6h0M409.5 1886.7h0M387.0 1918.9h0M398.4 1912.6h0M384.3 1913.7h0M378.2 1905.8h0M411.9 1848.9h0M384.5 1911.6h0M410.6 1860.7h0M401.3 1914.3h0M408.0 1853.5h0M406.5 1897.9h0M410.4 1874.8h0M409.7 1916.2h0M410.7 1849.3h0M379.6 1908.0h0M409.5 1845.5h0M386.9 1919.0h0M370.0 1879.0h0M370.5 1916.7h0M404.1 1886.0h0M384.0 1906.4h0M373.5 1900.7h0M377.6 1900.7h0M410.2 1891.6h0M410.1 1877.3h0M411.5 1908.8h0M404.9 1911.6h0M392.0 1927.7h0M380.4 1892.6h0M374.1 1872.7h0M406.2 1876.5h0M407.5 1861.4h0M373.0 1865.6h0M408.1 1878.1h0M407.4 1855.1h0M401.4 1924.2h0M383.5 1914.1h0M394.1 1923.1h0M396.9 1899.7h0M402.0 1898.7h0M411.1 1863.1h0M381.5 1911.6h0M403.3 1893.1h0M375.7 1876.3h0M406.8 1911.6h0M401.0 1910.7h0M383.0 1922.4h0M377.7 1896.9h0M409.6 1908.1h0M374.4 1901.8h0M410.5 1901.1h0M383.1 1912.6h0M401.7 1880.9h0M401.6 1900.3h0M396.4 1901.8h0M402.4 1923.6h0M404.7 1871.3h0M381.0 1903.5h0M372.7 1873.1h0M374.5 1897.1h0M402.5 1888.4h0M409.5 1853.8h0M403.8 1892.9h0M375.4 1894.0h0M372.6 1886.6h0M381.4 1921.0h0M381.3 1906.5h0M379.2 1918.4h0M403.6 1891.9h0M399.3 1920.5h0M405.2 1895.3h0M369.9 1865.1h0M375.7 1900.3h0M372.3 1883.3h0M374.5 1905.4h0M403.9 1874.2h0M371.0 1877.5h0M387.7 1921.4h0M411.8 1847.6h0M410.4 1894.9h0M411.4 1920.6h0M390.0 1914.4h0M384.2 1908.8h0M378.1 1901.3h0M410.9 1853.3h0M372.4 1907.2h0M380.9 1892.3h0M411.6 1897.3h0M371.7 1910.3h0M403.7 1882.4h0M374.1 1917.1h0M375.2 1916.9h0M378.6 1902.6h0M411.2 1884.2h0M400.7 1889.5h0M375.4 1926.4h0M385.8 1926.8h0M389.4 1923.4h0M407.3 1874.5h0M372.8 1895.5h0M378.5 1903.5h0M408.0 1889.6h0M374.2 1868.8h0M375.1 1907.8h0M388.4 1921.0h0M400.4 1922.3h0M395.1 1921.5h0M379.5 1888.6h0M371.4 1918.4h0M411.0 1847.8h0M371.4 1922.9h0M409.1 1864.1h0M408.6 1901.5h0M376.3 1925.9h0M401.8 1917.4h0M410.9 1857.0h0M376.7 1876.7h0M373.1 1922.3h0M386.6 1926.9h0M401.2 1925.3h0M389.1 1915.5h0M397.2 1907.1h0M387.9 1916.7h0M411.0 1873.3h0M384.7 1918.3h0M405.6 1917.6h0M402.0 1913.0h0M402.2 1927.0h0M373.0 1916.4h0M400.0 1924.7h0M380.5 1897.8h0M373.8 1883.6h0M411.2 1862.6h0M409.1 1851.8h0M401.6 1900.4h0M380.3 1886.6h0M370.7 1904.7h0M403.3 1874.7h0M410.6 1911.7h0M373.6 1906.6h0M370.4 1901.8h0M377.2 1884.1h0M380.3 1902.1h0M371.0 1858.9h0M378.6 1901.9h0M410.5 1863.7h0M382.6 1921.3h0M372.6 1926.3h0M385.1 1913.5h0M374.6 1878.6h0M410.7 1859.3h0M377.3 1917.7h0M400.5 1918.3h0M409.1 1893.6h0M404.9 1924.6h0M404.8 1905.2h0M398.1 1900.1h0M370.2 1908.8h0M408.0 1912.0h0M397.7 1909.7h0M375.9 1918.0h0M411.3 1889.6h0M379.2 1921.2h0M380.4 1891.2h0M391.9 1916.6h0M402.1 1905.4h0M378.0 1905.9h0M406.5 1922.7h0M379.7 1924.8h0M388.3 1916.2h0M373.8 1916.0h0M379.5 1883.9h0M374.8 1920.9h0M409.3 1872.5h0M372.8 1905.6h0M406.0 1916.7h0M409.6 1875.5h0M379.9 1910.7h0M406.3 1906.6h0M373.3 1901.3h0M408.8 1881.8h0M400.7 1920.3h0M385.0 1915.8h0M411.3 1879.8h0M377.4 1926.6h0M370.8 1880.9h0M409.7 1854.0h0M406.0 1891.1h0M407.9 1909.6h0M407.8 1919.5h0M379.0 1924.1h0M388.3 1913.7h0M396.0 1906.2h0M405.0 1907.6h0M412.0 1882.2h0M370.8 1890.5h0M369.8 1867.2h0M375.6 1903.8h0M376.1 1914.1h0M407.2 1922.0h0M379.7 1911.0h0M410.2 1900.9h0M409.6 1887.1h0M374.2 1926.0h0M382.0 1898.9h0M410.6 1841.0h0M374.7 1903.4h0M410.4 1908.5h0M393.9 1909.6h0M399.0 1902.2h0M379.8 1891.2h0M370.2 1880.4h0M397.1 1909.8h0M410.2 1849.5h0M379.6 1884.8h0M410.2 1907.1h0M407.8 1904.6h0M400.8 1891.9h0M375.2 1905.5h0M378.9 1901.2h0M371.3 1914.2h0M373.1 1869.7h0M409.6 1870.3h0M388.3 1910.2h0M390.1 1925.9h0M398.3 1911.7h0M382.5 1902.2h0M404.5 1867.9h0M394.6 1908.0h0M370.4 1874.5h0M400.4 1900.6h0M372.8 1927.2h0M370.0 1904.8h0M411.5 1925.8h0M410.7 1912.9h0M372.1 1919.3h0M376.7 1918.6h0M400.6 1893.7h0M409.0 1871.9h0M372.0 1912.4h0M400.1 1904.9h0M373.8 1869.3h0M379.6 1918.4h0M375.6 1908.5h0M394.4 1917.0h0M396.6 1903.7h0M371.1 1855.6h0M379.1 1898.8h0M378.4 1896.7h0M397.8 1901.7h0M376.4 1905.2h0M403.3 1896.9h0M372.1 1867.1h0M373.6 1922.8h0M391.5 1912.6h0M374.8 1877.2h0M402.5 1917.1h0M372.8 1889.2h0M398.0 1905.6h0M395.9 1917.3h0M381.6 1924.0h0M411.2 1837.1h0M375.2 1881.3h0M402.3 1884.2h0M373.4 1888.5h0M372.0 1899.0h0M402.2 1914.3h0M374.3 1920.7h0M376.7 1874.8h0M405.0 1910.9h0M375.0 1903.5h0M410.8 1916.1h0M400.8 1914.8h0M384.1 1903.0h0M411.6 1912.9h0M405.9 1895.7h0M384.2 1909.0h0M406.2 1870.5h0M370.2 1851.7h0" fill="none" stroke="#7fe6f5" stroke-width="7.4" stroke-linecap="round"/>
<path d="M359.2 1812.8h0M360.2 1813.1h0M360.0 1815.8h0M364.5 1814.7h0M358.0 1818.0h0M361.9 1817.4h0M364.2 1819.8h0M359.0 1820.7h0M362.9 1821.4h0M359.4 1825.1h0M362.5 1824.5h0M363.7 1823.4h0M359.8 1827.7h0M365.5 1827.4h0M360.0 1832.5h0M363.5 1831.4h0M358.1 1833.8h0M361.2 1836.3h0M362.5 1838.8h0M365.1 1839.4h0M358.2 1841.1h0M360.1 1842.7h0M363.1 1840.8h0M357.7 1844.3h0M361.5 1844.0h0M365.7 1843.6h0M359.4 1847.8h0M362.2 1849.2h0M363.4 1849.2h0M355.3 1852.8h0M359.6 1851.1h0M360.6 1850.4h0M366.2 1852.0h0M356.0 1854.9h0M357.7 1856.0h0M362.7 1854.8h0M363.6 1854.2h0M356.2 1859.3h0M357.5 1857.5h0M362.7 1858.8h0M365.7 1859.5h0M358.3 1862.5h0M365.6 1859.9h0M359.4 1865.9h0M361.1 1864.7h0M365.5 1864.4h0M355.2 1867.4h0M359.1 1866.3h0M360.0 1868.9h0M363.2 1867.7h0M356.1 1871.0h0M357.3 1872.4h0M362.7 1871.5h0M365.5 1871.5h0M358.2 1874.1h0M360.2 1874.3h0M363.9 1874.0h0M357.1 1876.5h0M361.8 1877.9h0M365.3 1877.3h0M354.9 1880.1h0M356.8 1882.1h0M362.0 1882.4h0M359.4 1883.6h0M361.4 1883.7h0M355.3 1886.5h0M358.2 1887.2h0M360.6 1886.5h0M363.5 1887.9h0M358.0 1890.5h0M362.2 1890.0h0M365.7 1890.8h0M353.9 1893.1h0M357.5 1895.5h0M363.5 1895.3h0M352.0 1897.3h0M357.2 1897.2h0M360.0 1898.1h0M364.1 1896.8h0M349.5 1899.5h0M351.4 1899.8h0M354.7 1901.8h0M359.5 1901.8h0M360.2 1900.8h0M365.3 1901.4h0M352.1 1903.7h0M354.1 1905.6h0M356.5 1902.8h0M362.5 1904.5h0M352.6 1907.7h0M355.2 1908.8h0M357.1 1907.5h0M360.8 1907.0h0M364.9 1906.5h0M348.8 1911.6h0M350.7 1912.1h0M354.4 1910.0h0M358.7 1911.7h0M362.1 1909.8h0M364.2 1910.1h0M342.5 1914.5h0M345.3 1914.6h0M352.9 1914.1h0M356.3 1915.0h0M357.5 1912.8h0M362.1 1914.0h0M363.9 1914.0h0M339.4 1917.1h0M341.0 1918.8h0M343.8 1916.6h0M349.3 1916.8h0M352.7 1917.1h0M359.4 1917.1h0M336.6 1699.0h0M350.5 1719.2h0M358.1 1723.4h0M355.3 1757.6h0M353.7 1769.6h0M354.0 1778.7h0M352.3 1787.1h0M344.4 1801.2h0M356.9 1804.9h0M346.2 1831.2h0M344.6 1839.7h0M303.2 1921.0h0M317.6 1921.5h0M324.1 1921.5h0M328.9 1921.0h0M267.0 1919.6h0M279.9 1922.2h0M286.4 1923.1h0M295.0 1922.2h0M301.5 1920.9h0M305.8 1921.8h0M316.5 1922.2h0M320.8 1921.8h0M327.3 1921.8h0M333.8 1921.4h0" fill="none" stroke="#e0ab3f" stroke-width="7.4" stroke-linecap="round"/>
<path d="M423.6 1764.9h0M424.3 1764.4h0M421.5 1769.6h0M424.2 1769.8h0M418.4 1772.5h0M421.6 1771.0h0M420.2 1775.0h0M418.4 1777.2h0M421.7 1777.8h0M416.3 1782.2h0M419.1 1780.6h0M423.2 1782.5h0M415.7 1786.3h0M419.0 1785.9h0M421.4 1785.1h0M416.5 1788.7h0M418.5 1788.4h0M422.3 1787.7h0M425.1 1787.7h0M417.4 1791.3h0M418.8 1792.3h0M423.0 1791.4h0M420.7 1794.1h0M421.0 1793.7h0M426.1 1795.0h0M415.3 1797.0h0M420.2 1797.5h0M423.7 1797.1h0M425.8 1797.8h0M419.3 1801.2h0M422.2 1800.3h0M416.8 1803.4h0M420.2 1804.0h0M421.6 1805.5h0M426.1 1804.3h0M416.9 1806.9h0M420.1 1808.6h0M424.0 1807.6h0M416.8 1812.2h0M419.3 1812.1h0M422.1 1810.8h0M414.1 1813.6h0M416.3 1816.0h0M420.8 1813.3h0M423.5 1814.4h0M424.9 1815.6h0M413.5 1819.3h0M416.8 1817.9h0M423.0 1818.7h0M416.5 1820.7h0M418.7 1822.2h0M423.5 1822.9h0M415.1 1824.7h0M420.4 1826.1h0M423.3 1825.3h0M425.0 1826.1h0M427.5 1824.1h0M412.7 1829.1h0M415.9 1828.5h0M419.6 1827.7h0M425.1 1826.8h0M429.2 1826.9h0M431.1 1828.4h0M420.3 1831.9h0M424.0 1832.7h0M424.5 1831.9h0M429.4 1829.7h0M432.2 1831.6h0M415.8 1835.1h0M420.4 1834.6h0M425.2 1834.0h0M428.8 1833.1h0M432.3 1835.8h0M415.7 1837.5h0M417.9 1836.3h0M422.2 1837.7h0M430.3 1839.3h0M416.1 1840.6h0M420.2 1840.2h0M421.9 1842.6h0M428.8 1841.6h0M417.1 1844.0h0M419.1 1844.6h0M421.5 1844.0h0M425.9 1842.9h0M428.9 1843.1h0M413.6 1849.3h0M416.5 1847.1h0M422.8 1847.3h0M425.6 1849.2h0M412.8 1851.3h0M416.9 1849.8h0M420.6 1852.3h0M423.3 1851.2h0M426.0 1849.9h0M414.1 1852.9h0M416.0 1854.6h0M423.8 1853.1h0M416.9 1857.3h0M419.7 1856.2h0M421.1 1857.9h0M413.0 1860.0h0M417.1 1862.1h0M419.2 1859.9h0M424.2 1860.5h0M412.9 1863.4h0M416.4 1863.0h0M417.8 1864.9h0M421.3 1862.9h0M426.7 1864.2h0M416.2 1869.1h0M421.6 1867.4h0M425.2 1867.0h0M413.1 1872.1h0M418.6 1870.8h0M422.9 1872.3h0M424.0 1875.5h0M416.7 1878.1h0M418.6 1878.6h0M422.7 1877.2h0M424.4 1876.2h0M414.3 1880.0h0M418.2 1879.2h0M421.7 1880.2h0M427.6 1881.9h0M414.6 1885.0h0M418.0 1883.4h0M422.9 1884.2h0M426.6 1883.2h0M428.0 1883.3h0M431.0 1883.6h0M413.3 1887.4h0M416.6 1888.1h0M420.8 1888.3h0M423.0 1887.4h0M429.0 1887.5h0M434.6 1887.2h0M413.4 1890.3h0M415.2 1892.0h0M418.5 1891.9h0M421.8 1890.6h0M424.6 1889.8h0M427.7 1890.4h0M436.9 1890.2h0M438.9 1891.9h0M413.3 1894.1h0M417.0 1895.4h0M420.7 1892.6h0M422.3 1893.2h0M427.1 1892.8h0M430.6 1895.2h0M431.1 1893.8h0M436.6 1893.0h0M440.5 1892.4h0M441.0 1894.8h0M416.7 1897.2h0M419.5 1896.1h0M421.3 1897.6h0M430.6 1896.5h0M433.6 1896.0h0M437.0 1897.5h0M437.4 1897.6h0M413.0 1899.9h0M415.9 1900.7h0M420.0 1900.6h0M421.7 1901.7h0M429.5 1899.1h0M433.0 1900.1h0M436.3 1899.5h0M439.9 1901.2h0M441.0 1899.7h0M444.1 1901.0h0M412.9 1902.4h0M417.2 1904.0h0M419.9 1905.2h0M425.7 1904.9h0M428.0 1905.1h0M430.8 1902.5h0M437.1 1904.3h0M437.7 1904.1h0M441.8 1902.8h0M417.4 1906.4h0M418.6 1905.9h0M426.4 1907.6h0M429.6 1907.3h0M433.0 1906.0h0M436.8 1907.4h0M439.7 1907.2h0M442.5 1905.7h0M444.1 1908.8h0M415.0 1911.0h0M420.6 1911.8h0M425.3 1909.1h0M430.6 1911.3h0M440.4 1911.0h0M442.1 1910.8h0M446.8 1911.7h0M447.3 1911.4h0M454.1 1911.8h0M458.7 1912.0h0M416.8 1913.1h0M417.8 1912.4h0M421.1 1915.2h0M425.4 1914.9h0M429.5 1913.6h0M433.9 1913.1h0M435.6 1912.6h0M439.0 1914.7h0M440.9 1915.2h0M446.8 1912.3h0M447.8 1913.0h0M453.0 1913.6h0M455.2 1913.9h0M460.2 1912.8h0M462.2 1913.3h0M463.9 1914.3h0M470.1 1913.1h0M471.4 1913.9h0M414.9 1916.1h0M418.7 1918.4h0M421.7 1916.1h0M426.4 1917.3h0M430.1 1917.6h0M432.7 1917.6h0M434.4 1916.7h0M443.2 1918.3h0M445.2 1917.1h0M448.0 1915.9h0M452.2 1918.5h0M456.7 1918.5h0M457.3 1915.9h0M463.3 1917.5h0M465.2 1916.8h0M468.8 1916.4h0M473.2 1917.3h0M474.6 1917.3h0M450.2 1378.7h0M449.5 1459.5h0M443.5 1466.6h0M448.7 1476.6h0M439.0 1498.7h0M451.7 1500.5h0M440.0 1528.2h0M433.0 1578.9h0M448.3 1577.7h0M445.0 1585.2h0M445.0 1588.2h0M428.9 1597.7h0M441.5 1610.4h0M441.5 1620.9h0M429.7 1624.2h0M435.5 1631.0h0M453.7 1640.4h0M425.5 1650.2h0M436.7 1653.9h0M443.5 1653.9h0M453.6 1641.3h0M425.6 1650.4h0M437.1 1654.1h0M443.2 1654.1h0M430.1 1670.5h0M430.4 1686.5h0M456.4 1688.9h0M427.5 1693.7h0M425.1 1696.9h0M435.2 1698.1h0M433.1 1700.6h0M434.2 1707.0h0M419.5 1719.4h0M421.9 1721.8h0M424.3 1724.2h0M439.9 1726.1h0M426.7 1728.2h0M431.8 1729.3h0M425.1 1732.2h0M469.2 1732.7h0M437.6 1742.6h0M425.9 1745.4h0M473.5 1752.6h0M425.9 1754.7h0M467.6 1757.4h0M421.9 1758.7h0M450.8 1760.3h0M434.2 1761.4h0M423.5 1765.1h0M444.0 1771.2h0M424.3 1771.5h0M416.3 1772.8h0M418.7 1777.9h0M426.7 1783.5h0M415.5 1782.7h0M435.5 1792.4h0M437.1 1795.3h0M461.7 1802.3h0M502.6 1802.5h0M450.0 1821.6h0M460.4 1824.8h0M460.9 1840.5h0M438.3 1853.3h0M447.6 1854.1h0M463.3 1857.6h0M445.1 1858.9h0M442.7 1862.9h0M437.1 1866.1h0M449.5 1868.5h0M456.9 1867.4h0M472.4 1868.5h0M439.5 1872.6h0M438.7 1876.6h0M457.2 1880.1h0M432.3 1883.0h0M438.7 1885.4h0M445.1 1888.6h0M474.3 1891.8h0M445.1 1895.0h0M450.0 1895.8h0M454.8 1894.2h0M441.9 1903.0h0M459.6 1901.7h0M466.0 1901.1h0M449.2 1907.8h0M453.2 1907.5h0M456.4 1912.7h0M462.0 1912.7h0M466.8 1912.7h0M472.4 1915.9h0M450.8 1916.7h0M482.8 1918.3h0M494.9 1920.7h0M499.7 1920.7h0M529.8 1916.2h0M535.0 1922.3h0M542.2 1921.5h0M550.2 1919.9h0M558.2 1921.0h0M529.7 1915.8h0M536.2 1923.1h0M544.8 1921.8h0M551.2 1920.1h0M558.6 1921.8h0M568.5 1920.9h0M574.1 1923.1h0M589.6 1911.9h0M655.5 1900.2h0" fill="none" stroke="#ee3b4a" stroke-width="7.4" stroke-linecap="round"/>
<path d="M340.6 1927.4h0M449.7 1927.7h0M411.3 1926.8h0M252.0 1926.4h0M245.2 1926.6h0M255.9 1927.6h0M374.2 1925.5h0M273.9 1927.2h0M441.8 1925.1h0M425.0 1926.7h0M558.1 1927.7h0M518.8 1927.0h0M280.7 1927.5h0M335.5 1925.5h0M292.9 1926.2h0M445.7 1926.8h0M415.3 1927.7h0M252.5 1927.3h0M459.5 1926.6h0M337.4 1926.2h0M383.7 1927.0h0M497.5 1925.9h0M314.0 1926.2h0M407.7 1925.3h0M475.8 1927.0h0M559.4 1927.5h0M372.0 1925.7h0M283.3 1926.5h0M245.7 1925.9h0M487.5 1926.2h0M524.5 1927.0h0M464.4 1926.2h0M426.0 1926.6h0M512.7 1925.1h0M390.7 1926.0h0M252.9 1925.8h0M448.4 1925.0h0M506.7 1927.1h0M361.3 1925.9h0M240.2 1926.5h0M288.7 1927.5h0M252.3 1925.7h0M275.8 1927.2h0M363.0 1925.4h0M259.5 1926.6h0M415.8 1925.3h0M505.8 1925.4h0M325.5 1926.7h0M352.3 1925.3h0M551.9 1927.4h0M291.4 1927.2h0M310.4 1926.5h0M429.1 1927.1h0M234.0 1926.7h0M355.8 1926.2h0M550.4 1925.9h0M404.5 1926.1h0M458.1 1927.7h0M532.5 1925.6h0M524.2 1925.6h0M363.5 1926.7h0M267.2 1926.0h0M253.4 1927.7h0M302.2 1927.4h0M346.0 1927.7h0M232.7 1927.4h0M266.5 1926.8h0M241.2 1925.3h0M437.4 1927.5h0M316.7 1926.9h0M354.1 1927.5h0M515.7 1925.0h0M388.0 1926.5h0M261.3 1927.6h0M346.9 1927.1h0M509.0 1927.4h0M240.3 1925.1h0M408.8 1927.5h0M413.7 1927.8h0M408.7 1925.0h0M520.5 1925.9h0M319.7 1926.8h0M288.3 1925.6h0M410.2 1925.6h0M342.6 1927.2h0M503.2 1925.0h0M516.9 1925.5h0M505.5 1925.7h0M308.2 1926.4h0M351.2 1927.8h0M242.0 1927.1h0M319.1 1925.9h0M551.5 1926.6h0M545.0 1925.0h0M551.0 1926.8h0M306.1 1927.2h0M298.2 1927.3h0M440.7 1925.3h0M512.8 1926.5h0M450.3 1925.6h0M260.9 1926.0h0M536.0 1925.6h0M482.7 1926.5h0M292.2 1925.6h0M343.5 1925.6h0M556.6 1926.7h0M366.5 1925.1h0M474.3 1927.4h0M275.0 1927.4h0M534.3 1925.5h0M281.4 1925.5h0M559.5 1926.0h0M349.5 1926.3h0M276.3 1927.8h0M556.3 1926.0h0M408.2 1925.2h0M377.3 1925.4h0M508.1 1927.3h0M316.6 1927.0h0M312.8 1926.2h0M319.1 1926.7h0M276.3 1925.2h0M350.6 1926.6h0M427.1 1925.3h0M372.9 1925.2h0M399.9 1926.3h0M407.2 1927.8h0M379.4 1927.4h0M234.0 1925.6h0M290.1 1926.5h0M474.4 1926.3h0M341.3 1926.4h0M417.8 1925.6h0M268.0 1926.3h0M315.5 1927.1h0M490.1 1926.4h0M419.9 1925.7h0M536.9 1926.6h0M436.9 1926.4h0M403.4 1925.9h0M383.5 1926.3h0M392.0 1925.2h0M465.8 1925.3h0M546.8 1927.1h0M419.2 1925.1h0M512.7 1927.5h0M273.2 1926.6h0M256.8 1927.2h0M257.0 1925.9h0M494.0 1925.3h0M284.1 1925.8h0M452.8 1927.5h0M527.0 1925.1h0M305.9 1925.1h0M365.4 1926.5h0M562.7 1925.5h0M286.5 1926.6h0M404.5 1926.9h0M297.9 1927.0h0M473.4 1927.8h0M417.4 1926.6h0M238.7 1926.9h0M440.7 1926.4h0M254.1 1925.0h0M495.5 1925.1h0M267.6 1927.1h0M245.8 1925.6h0M322.8 1927.5h0M373.4 1925.2h0M505.7 1927.1h0M282.4 1925.2h0M422.9 1925.9h0M262.5 1927.7h0M462.1 1926.6h0M256.8 1925.2h0M444.2 1925.6h0M260.6 1925.4h0M254.9 1925.4h0M383.9 1926.9h0M417.0 1925.2h0M321.9 1927.5h0M408.3 1927.2h0M269.1 1927.4h0M249.4 1927.3h0M336.7 1927.0h0M485.9 1927.0h0M399.4 1927.4h0M348.3 1927.8h0M316.1 1927.8h0M477.0 1926.3h0M295.8 1926.5h0M544.2 1927.6h0M505.7 1926.6h0M397.7 1925.5h0M363.7 1926.4h0M461.9 1925.0h0M346.9 1925.5h0M468.3 1926.0h0M367.6 1926.9h0M250.8 1927.5h0M256.2 1925.7h0M317.9 1927.4h0M260.8 1925.4h0M522.9 1925.9h0M326.6 1927.2h0M330.3 1926.6h0M285.2 1926.6h0M320.4 1925.1h0M556.9 1926.3h0M314.1 1925.1h0M335.8 1926.8h0M233.0 1926.8h0M390.9 1926.4h0M299.7 1926.4h0M234.3 1927.1h0M262.6 1926.7h0M246.5 1927.8h0M334.1 1927.2h0M427.9 1926.3h0M482.9 1926.0h0M471.3 1925.3h0M362.5 1926.9h0M560.9 1927.4h0M474.1 1926.0h0M247.2 1925.5h0M530.0 1926.1h0M477.3 1925.5h0M279.1 1926.4h0M400.8 1925.5h0M500.9 1925.5h0M427.4 1925.3h0M460.3 1925.9h0M309.3 1927.8h0M277.0 1926.8h0M267.6 1925.5h0M418.9 1926.1h0M441.4 1925.9h0M395.8 1927.9h0M498.6 1925.7h0M400.3 1926.3h0M452.4 1927.7h0M478.3 1927.2h0M257.5 1927.1h0M475.8 1927.3h0M479.3 1925.1h0M397.3 1926.8h0M392.3 1925.9h0M488.3 1926.1h0M446.9 1927.7h0M281.8 1927.1h0M480.4 1927.0h0M421.9 1927.8h0M252.9 1927.1h0M456.7 1925.9h0M457.9 1927.0h0M404.9 1926.5h0M388.1 1927.5h0M530.6 1927.3h0M558.7 1925.2h0M238.5 1926.6h0M506.0 1925.1h0M382.5 1927.1h0M302.6 1925.1h0M302.9 1926.2h0M279.9 1926.4h0M550.3 1927.5h0M506.1 1926.4h0M528.3 1925.8h0M309.8 1925.3h0M394.7 1927.8h0M233.8 1926.5h0M382.9 1927.0h0M279.6 1926.9h0M338.0 1925.4h0M233.2 1925.7h0M512.4 1927.5h0M541.5 1925.8h0M533.2 1927.0h0M356.7 1926.7h0M565.6 1926.2h0M352.9 1926.6h0M324.4 1927.7h0M266.6 1925.5h0M327.9 1925.2h0M315.8 1927.1h0M403.0 1927.3h0M357.1 1925.1h0M527.4 1925.5h0M443.0 1925.2h0M546.3 1926.3h0M472.5 1927.7h0M476.8 1926.6h0M483.6 1926.0h0M328.1 1927.7h0M541.6 1927.5h0M390.1 1926.9h0M331.9 1925.7h0M558.1 1927.1h0M451.3 1927.0h0M418.4 1926.7h0M288.4 1927.4h0M302.0 1925.3h0M398.4 1927.2h0M534.8 1925.0h0M382.7 1927.5h0M296.8 1927.6h0M346.7 1927.6h0M312.4 1927.1h0M422.5 1925.3h0M482.6 1926.7h0M370.6 1926.4h0M358.3 1926.9h0M253.3 1927.1h0M555.3 1927.5h0M400.5 1926.1h0M520.3 1927.3h0M323.0 1927.2h0M365.9 1926.6h0M550.7 1925.4h0M523.7 1927.8h0M243.4 1925.8h0M531.3 1926.5h0M428.4 1927.9h0M363.2 1925.2h0M507.9 1925.4h0M556.8 1927.2h0M269.0 1927.4h0M406.8 1925.9h0M546.5 1925.8h0M448.5 1925.7h0M385.1 1926.3h0M245.8 1925.6h0M310.2 1925.2h0M447.8 1927.0h0M275.3 1927.2h0M444.8 1925.9h0M270.0 1927.7h0M407.5 1926.2h0M362.0 1927.2h0M433.0 1927.9h0M333.2 1926.5h0M552.3 1926.0h0M527.3 1926.5h0M310.9 1927.2h0M552.9 1925.8h0M335.1 1927.8h0M398.8 1925.9h0M372.7 1927.1h0M455.1 1925.2h0M308.3 1927.8h0M345.3 1926.7h0M460.2 1927.3h0M498.4 1925.7h0M401.0 1927.3h0M556.0 1927.0h0M506.0 1927.2h0M306.5 1925.7h0M331.0 1925.1h0M397.9 1927.3h0M307.1 1926.7h0M454.4 1925.1h0M281.5 1926.7h0M303.6 1925.1h0M280.0 1927.7h0M252.7 1926.7h0M532.1 1925.3h0M476.9 1925.0h0M543.2 1926.9h0M294.5 1925.2h0M481.5 1927.8h0M454.2 1926.8h0M357.3 1926.9h0M289.1 1927.9h0M325.9 1926.9h0M551.2 1927.5h0M554.1 1927.3h0M351.5 1925.5h0M506.7 1926.6h0M249.1 1926.5h0M356.9 1925.2h0M297.0 1926.8h0M531.7 1927.8h0M369.6 1925.5h0M488.2 1927.8h0M244.3 1927.7h0M539.4 1927.1h0M481.8 1925.3h0M345.7 1927.1h0M551.9 1926.1h0M320.1 1925.8h0M338.2 1927.1h0M233.9 1925.7h0M538.2 1926.0h0M547.1 1927.8h0M310.6 1926.5h0M551.6 1925.1h0M361.5 1927.2h0M376.0 1926.5h0M542.1 1927.4h0M500.2 1925.7h0M506.9 1925.6h0M435.1 1926.9h0M339.2 1926.8h0M493.4 1927.7h0M298.4 1925.7h0M315.1 1927.7h0M243.9 1926.3h0M341.3 1925.0h0M527.2 1925.0h0M321.0 1927.6h0M264.8 1926.4h0M469.3 1926.6h0M310.7 1926.7h0M439.4 1925.9h0M482.0 1925.4h0M454.2 1927.5h0M513.0 1927.0h0M421.6 1926.8h0M478.7 1927.3h0M315.1 1927.2h0M150.4 1926.3h0M196.8 1926.3h0M203.1 1926.3h0M209.4 1926.3h0M215.8 1926.3h0M222.1 1926.3h0M226.3 1926.3h0M599.8 1926.3h0" fill="none" stroke="#7fe6f5" stroke-width="7.4" stroke-linecap="round"/>
<line x1="368.6" y1="1373.3" x2="368.6" y2="1931.8" stroke="#000" stroke-width="1.6" stroke-dasharray="4.8 6.4"/>
<line x1="410.9" y1="1373.3" x2="410.9" y2="1931.8" stroke="#000" stroke-width="1.6" stroke-dasharray="4.8 6.4"/>
<line x1="120.1" y1="1925.4" x2="659.8" y2="1925.4" stroke="#000" stroke-width="1.6" stroke-dasharray="4.8 6.4"/>
<rect x="111.1" y="1373.3" width="557.7" height="558.5" fill="none" stroke="#111" stroke-width="1.5"/>
<line x1="106.6" y1="1927.7" x2="111.1" y2="1927.7" stroke="#333" stroke-width="1.4"/>
<text x="98.3" y="1937.3" font-size="27" text-anchor="end">0</text>
<line x1="106.6" y1="1746.7" x2="111.1" y2="1746.7" stroke="#333" stroke-width="1.4"/>
<text x="98.3" y="1756.3" font-size="27" text-anchor="end">100</text>
<line x1="106.6" y1="1565.7" x2="111.1" y2="1565.7" stroke="#333" stroke-width="1.4"/>
<text x="98.3" y="1575.3" font-size="27" text-anchor="end">200</text>
<line x1="106.6" y1="1384.7" x2="111.1" y2="1384.7" stroke="#333" stroke-width="1.4"/>
<text x="98.3" y="1394.3" font-size="27" text-anchor="end">300</text>
<line x1="179.9" y1="1931.8" x2="179.9" y2="1936.3" stroke="#333" stroke-width="1.4"/>
<text x="178.9" y="1963.2" font-size="27" text-anchor="middle">-10</text>
<line x1="285.4" y1="1931.8" x2="285.4" y2="1936.3" stroke="#333" stroke-width="1.4"/>
<text x="284.4" y="1963.2" font-size="27" text-anchor="middle">-5</text>
<line x1="390.9" y1="1931.8" x2="390.9" y2="1936.3" stroke="#333" stroke-width="1.4"/>
<text x="389.9" y="1963.2" font-size="27" text-anchor="middle">0</text>
<line x1="496.4" y1="1931.8" x2="496.4" y2="1936.3" stroke="#333" stroke-width="1.4"/>
<text x="495.4" y="1963.2" font-size="27" text-anchor="middle">5</text>
<line x1="601.9" y1="1931.8" x2="601.9" y2="1936.3" stroke="#333" stroke-width="1.4"/>
<text x="600.9" y="1963.2" font-size="27" text-anchor="middle">10</text>
<text x="389.8" y="1996.5" font-size="29.7" font-weight="bold" text-anchor="middle" fill="#333333">log2(FC)</text>
<text x="42.0" y="1654.3" font-size="29.2" font-weight="bold" text-anchor="middle" fill="#333333" transform="rotate(-90 42.0 1654.3)">-log10(FDR)</text>
<circle cx="705.4" cy="1610.0" r="7.8" fill="#ee3b4a"/>
<text x="724.8" y="1617.8" font-size="25.8" fill="#333">up</text>
<circle cx="705.4" cy="1647.0" r="7.8" fill="#7fe6f5"/>
<text x="724.8" y="1654.8" font-size="25.8" fill="#333">nodiff</text>
<circle cx="705.4" cy="1683.6" r="7.8" fill="#e0ab3f"/>
<text x="724.8" y="1691.4" font-size="25.8" fill="#333">down</text>
</g>
<g>
<text x="741.7" y="1340.0" font-size="36" font-weight="bold">H</text>
<text x="881.9" y="1313.0" font-size="29.4" text-anchor="middle">nc</text>
<text x="982.8" y="1313.0" font-size="29.4" text-anchor="middle">shUHRF1</text>
<line x1="850.2" y1="1327.0" x2="920.5" y2="1327.0" stroke="#333" stroke-width="1.3"/>
<line x1="929.7" y1="1327.0" x2="999.2" y2="1327.0" stroke="#333" stroke-width="1.3"/>
<rect x="849.0" y="1336.2" width="25.3" height="25.2" fill="#7472bf" stroke="#999" stroke-width="1.4"/>
<rect x="874.3" y="1336.2" width="25.3" height="25.2" fill="#6c6abb" stroke="#999" stroke-width="1.4"/>
<rect x="899.7" y="1336.2" width="25.3" height="25.2" fill="#6c6abb" stroke="#999" stroke-width="1.4"/>
<rect x="925.0" y="1336.2" width="25.3" height="25.2" fill="#df6e72" stroke="#999" stroke-width="1.4"/>
<rect x="950.3" y="1336.2" width="25.3" height="25.2" fill="#e48487" stroke="#999" stroke-width="1.4"/>
<rect x="975.7" y="1336.2" width="25.3" height="25.2" fill="#e48487" stroke="#999" stroke-width="1.4"/>
<text x="1008.1" y="1358.0" font-size="25">FKBP5</text>
<rect x="849.0" y="1361.4" width="25.3" height="25.2" fill="#7472bf" stroke="#999" stroke-width="1.4"/>
<rect x="874.3" y="1361.4" width="25.3" height="25.2" fill="#6c6abb" stroke="#999" stroke-width="1.4"/>
<rect x="899.7" y="1361.4" width="25.3" height="25.2" fill="#6c6abb" stroke="#999" stroke-width="1.4"/>
<rect x="925.0" y="1361.4" width="25.3" height="25.2" fill="#df6e72" stroke="#999" stroke-width="1.4"/>
<rect x="950.3" y="1361.4" width="25.3" height="25.2" fill="#df6e72" stroke="#999" stroke-width="1.4"/>
<rect x="975.7" y="1361.4" width="25.3" height="25.2" fill="#e99a9d" stroke="#999" stroke-width="1.4"/>
<text x="1008.1" y="1383.2" font-size="25">ELL2</text>
<rect x="849.0" y="1386.6" width="25.3" height="25.2" fill="#7472bf" stroke="#999" stroke-width="1.4"/>
<rect x="874.3" y="1386.6" width="25.3" height="25.2" fill="#6461b7" stroke="#999" stroke-width="1.4"/>
<rect x="899.7" y="1386.6" width="25.3" height="25.2" fill="#6c6abb" stroke="#999" stroke-width="1.4"/>
<rect x="925.0" y="1386.6" width="25.3" height="25.2" fill="#e17679" stroke="#999" stroke-width="1.4"/>
<rect x="950.3" y="1386.6" width="25.3" height="25.2" fill="#df6e72" stroke="#999" stroke-width="1.4"/>
<rect x="975.7" y="1386.6" width="25.3" height="25.2" fill="#e58b8e" stroke="#999" stroke-width="1.4"/>
<text x="1008.1" y="1408.4" font-size="25">STEAP1</text>
<rect x="849.0" y="1411.8" width="25.3" height="25.2" fill="#7472bf" stroke="#999" stroke-width="1.4"/>
<rect x="874.3" y="1411.8" width="25.3" height="25.2" fill="#6c6abb" stroke="#999" stroke-width="1.4"/>
<rect x="899.7" y="1411.8" width="25.3" height="25.2" fill="#7472bf" stroke="#999" stroke-width="1.4"/>
<rect x="925.0" y="1411.8" width="25.3" height="25.2" fill="#df6e72" stroke="#999" stroke-width="1.4"/>
<rect x="950.3" y="1411.8" width="25.3" height="25.2" fill="#e27d80" stroke="#999" stroke-width="1.4"/>
<rect x="975.7" y="1411.8" width="25.3" height="25.2" fill="#e17679" stroke="#999" stroke-width="1.4"/>
<text x="1008.1" y="1433.5" font-size="25">RAB3B</text>
<rect x="849.0" y="1436.9" width="25.3" height="25.2" fill="#7c7ac3" stroke="#999" stroke-width="1.4"/>
<rect x="874.3" y="1436.9" width="25.3" height="25.2" fill="#6461b7" stroke="#999" stroke-width="1.4"/>
<rect x="899.7" y="1436.9" width="25.3" height="25.2" fill="#7472bf" stroke="#999" stroke-width="1.4"/>
<rect x="925.0" y="1436.9" width="25.3" height="25.2" fill="#dd676b" stroke="#999" stroke-width="1.4"/>
<rect x="950.3" y="1436.9" width="25.3" height="25.2" fill="#dc6064" stroke="#999" stroke-width="1.4"/>
<rect x="975.7" y="1436.9" width="25.3" height="25.2" fill="#f2c5c7" stroke="#999" stroke-width="1.4"/>
<text x="1008.1" y="1458.7" font-size="25">ACSL3</text>
<rect x="849.0" y="1462.1" width="25.3" height="25.2" fill="#9d9bd2" stroke="#999" stroke-width="1.4"/>
<rect x="874.3" y="1462.1" width="25.3" height="25.2" fill="#5351b0" stroke="#999" stroke-width="1.4"/>
<rect x="899.7" y="1462.1" width="25.3" height="25.2" fill="#5c59b4" stroke="#999" stroke-width="1.4"/>
<rect x="925.0" y="1462.1" width="25.3" height="25.2" fill="#da595d" stroke="#999" stroke-width="1.4"/>
<rect x="950.3" y="1462.1" width="25.3" height="25.2" fill="#dd676b" stroke="#999" stroke-width="1.4"/>
<rect x="975.7" y="1462.1" width="25.3" height="25.2" fill="#f4ccce" stroke="#999" stroke-width="1.4"/>
<text x="1008.1" y="1483.9" font-size="25">STEAP2</text>
<rect x="849.0" y="1487.3" width="25.3" height="25.2" fill="#6c6abb" stroke="#999" stroke-width="1.4"/>
<rect x="874.3" y="1487.3" width="25.3" height="25.2" fill="#6c6abb" stroke="#999" stroke-width="1.4"/>
<rect x="899.7" y="1487.3" width="25.3" height="25.2" fill="#7472bf" stroke="#999" stroke-width="1.4"/>
<rect x="925.0" y="1487.3" width="25.3" height="25.2" fill="#edafb2" stroke="#999" stroke-width="1.4"/>
<rect x="950.3" y="1487.3" width="25.3" height="25.2" fill="#e17679" stroke="#999" stroke-width="1.4"/>
<rect x="975.7" y="1487.3" width="25.3" height="25.2" fill="#dc6064" stroke="#999" stroke-width="1.4"/>
<text x="1008.1" y="1509.1" font-size="25">KLK2</text>
<rect x="849.0" y="1512.5" width="25.3" height="25.2" fill="#7c7ac3" stroke="#999" stroke-width="1.4"/>
<rect x="874.3" y="1512.5" width="25.3" height="25.2" fill="#6c6abb" stroke="#999" stroke-width="1.4"/>
<rect x="899.7" y="1512.5" width="25.3" height="25.2" fill="#4b48ac" stroke="#999" stroke-width="1.4"/>
<rect x="925.0" y="1512.5" width="25.3" height="25.2" fill="#dc6064" stroke="#999" stroke-width="1.4"/>
<rect x="950.3" y="1512.5" width="25.3" height="25.2" fill="#e79296" stroke="#999" stroke-width="1.4"/>
<rect x="975.7" y="1512.5" width="25.3" height="25.2" fill="#e17679" stroke="#999" stroke-width="1.4"/>
<text x="1008.1" y="1534.3" font-size="25">PLPP1</text>
<rect x="849.0" y="1537.7" width="25.3" height="25.2" fill="#d6d6ec" stroke="#999" stroke-width="1.4"/>
<rect x="874.3" y="1537.7" width="25.3" height="25.2" fill="#5c59b4" stroke="#999" stroke-width="1.4"/>
<rect x="899.7" y="1537.7" width="25.3" height="25.2" fill="#5351b0" stroke="#999" stroke-width="1.4"/>
<rect x="925.0" y="1537.7" width="25.3" height="25.2" fill="#f1bec0" stroke="#999" stroke-width="1.4"/>
<rect x="950.3" y="1537.7" width="25.3" height="25.2" fill="#f5d4d5" stroke="#999" stroke-width="1.4"/>
<rect x="975.7" y="1537.7" width="25.3" height="25.2" fill="#cf262c" stroke="#999" stroke-width="1.4"/>
<text x="1008.1" y="1559.5" font-size="25">TMPRSS2</text>
<rect x="849.0" y="1562.9" width="25.3" height="25.2" fill="#adacd9" stroke="#999" stroke-width="1.4"/>
<rect x="874.3" y="1562.9" width="25.3" height="25.2" fill="#5351b0" stroke="#999" stroke-width="1.4"/>
<rect x="899.7" y="1562.9" width="25.3" height="25.2" fill="#6461b7" stroke="#999" stroke-width="1.4"/>
<rect x="925.0" y="1562.9" width="25.3" height="25.2" fill="#f7dbdc" stroke="#999" stroke-width="1.4"/>
<rect x="950.3" y="1562.9" width="25.3" height="25.2" fill="#d2343a" stroke="#999" stroke-width="1.4"/>
<rect x="975.7" y="1562.9" width="25.3" height="25.2" fill="#e79296" stroke="#999" stroke-width="1.4"/>
<text x="1008.1" y="1584.6" font-size="25">KLK3</text>
<rect x="849.0" y="1588.0" width="25.3" height="25.2" fill="#f7dbdc" stroke="#999" stroke-width="1.4"/>
<rect x="874.3" y="1588.0" width="25.3" height="25.2" fill="#0a068e" stroke="#999" stroke-width="1.4"/>
<rect x="899.7" y="1588.0" width="25.3" height="25.2" fill="#7c7ac3" stroke="#999" stroke-width="1.4"/>
<rect x="925.0" y="1588.0" width="25.3" height="25.2" fill="#e17679" stroke="#999" stroke-width="1.4"/>
<rect x="950.3" y="1588.0" width="25.3" height="25.2" fill="#f5d4d5" stroke="#999" stroke-width="1.4"/>
<rect x="975.7" y="1588.0" width="25.3" height="25.2" fill="#e27d80" stroke="#999" stroke-width="1.4"/>
<text x="1008.1" y="1609.8" font-size="25">NKX3−1</text>
<rect x="849.0" y="1613.2" width="25.3" height="25.2" fill="#fcfcfd" stroke="#999" stroke-width="1.4"/>
<rect x="874.3" y="1613.2" width="25.3" height="25.2" fill="#221f99" stroke="#999" stroke-width="1.4"/>
<rect x="899.7" y="1613.2" width="25.3" height="25.2" fill="#eca8ab" stroke="#999" stroke-width="1.4"/>
<rect x="925.0" y="1613.2" width="25.3" height="25.2" fill="#e17679" stroke="#999" stroke-width="1.4"/>
<rect x="950.3" y="1613.2" width="25.3" height="25.2" fill="#5c59b4" stroke="#999" stroke-width="1.4"/>
<rect x="975.7" y="1613.2" width="25.3" height="25.2" fill="#e79296" stroke="#999" stroke-width="1.4"/>
<text x="1008.1" y="1635.0" font-size="25">C1orf116</text>
<rect x="849.0" y="1336.2" width="152.0" height="302.2" fill="none" stroke="#999" stroke-width="1.6"/>
<rect x="849.0" y="1645.0" width="25.3" height="25.3" fill="#d43c41" stroke="#999" stroke-width="1.4"/>
<rect x="874.3" y="1645.0" width="25.3" height="25.3" fill="#f1bec0" stroke="#999" stroke-width="1.4"/>
<rect x="899.7" y="1645.0" width="25.3" height="25.3" fill="#e48487" stroke="#999" stroke-width="1.4"/>
<rect x="925.0" y="1645.0" width="25.3" height="25.3" fill="#6c6abb" stroke="#999" stroke-width="1.4"/>
<rect x="950.3" y="1645.0" width="25.3" height="25.3" fill="#7c7ac3" stroke="#999" stroke-width="1.4"/>
<rect x="975.7" y="1645.0" width="25.3" height="25.3" fill="#6461b7" stroke="#999" stroke-width="1.4"/>
<text x="1008.1" y="1666.8" font-size="25">CDH2</text>
<rect x="849.0" y="1670.3" width="25.3" height="25.3" fill="#bebde1" stroke="#999" stroke-width="1.4"/>
<rect x="874.3" y="1670.3" width="25.3" height="25.3" fill="#2b279d" stroke="#999" stroke-width="1.4"/>
<rect x="899.7" y="1670.3" width="25.3" height="25.3" fill="#6461b7" stroke="#999" stroke-width="1.4"/>
<rect x="925.0" y="1670.3" width="25.3" height="25.3" fill="#dc6064" stroke="#999" stroke-width="1.4"/>
<rect x="950.3" y="1670.3" width="25.3" height="25.3" fill="#e17679" stroke="#999" stroke-width="1.4"/>
<rect x="975.7" y="1670.3" width="25.3" height="25.3" fill="#eca8ab" stroke="#999" stroke-width="1.4"/>
<text x="1008.1" y="1692.1" font-size="25">WNT5A</text>
<rect x="849.0" y="1695.6" width="25.3" height="25.3" fill="#cecde8" stroke="#999" stroke-width="1.4"/>
<rect x="874.3" y="1695.6" width="25.3" height="25.3" fill="#221f99" stroke="#999" stroke-width="1.4"/>
<rect x="899.7" y="1695.6" width="25.3" height="25.3" fill="#6c6abb" stroke="#999" stroke-width="1.4"/>
<rect x="925.0" y="1695.6" width="25.3" height="25.3" fill="#dc6064" stroke="#999" stroke-width="1.4"/>
<rect x="950.3" y="1695.6" width="25.3" height="25.3" fill="#f7dbdc" stroke="#999" stroke-width="1.4"/>
<rect x="975.7" y="1695.6" width="25.3" height="25.3" fill="#dc6064" stroke="#999" stroke-width="1.4"/>
<text x="1008.1" y="1717.4" font-size="25">CDH1</text>
<rect x="849.0" y="1720.8" width="25.3" height="25.3" fill="#fae9ea" stroke="#999" stroke-width="1.4"/>
<rect x="874.3" y="1720.8" width="25.3" height="25.3" fill="#d95156" stroke="#999" stroke-width="1.4"/>
<rect x="899.7" y="1720.8" width="25.3" height="25.3" fill="#efb7b9" stroke="#999" stroke-width="1.4"/>
<rect x="925.0" y="1720.8" width="25.3" height="25.3" fill="#edafb2" stroke="#999" stroke-width="1.4"/>
<rect x="950.3" y="1720.8" width="25.3" height="25.3" fill="#0a068e" stroke="#999" stroke-width="1.4"/>
<rect x="975.7" y="1720.8" width="25.3" height="25.3" fill="#7472bf" stroke="#999" stroke-width="1.4"/>
<text x="1008.1" y="1742.7" font-size="25">SNAI1</text>
<rect x="849.0" y="1746.1" width="25.3" height="25.3" fill="#d54348" stroke="#999" stroke-width="1.4"/>
<rect x="874.3" y="1746.1" width="25.3" height="25.3" fill="#bebde1" stroke="#999" stroke-width="1.4"/>
<rect x="899.7" y="1746.1" width="25.3" height="25.3" fill="#d6d6ec" stroke="#999" stroke-width="1.4"/>
<rect x="925.0" y="1746.1" width="25.3" height="25.3" fill="#bebde1" stroke="#999" stroke-width="1.4"/>
<rect x="950.3" y="1746.1" width="25.3" height="25.3" fill="#2b279d" stroke="#999" stroke-width="1.4"/>
<rect x="975.7" y="1746.1" width="25.3" height="25.3" fill="#df6e72" stroke="#999" stroke-width="1.4"/>
<text x="1008.1" y="1768.0" font-size="25">PRELID1</text>
<rect x="849.0" y="1771.4" width="25.3" height="25.3" fill="#f9e2e3" stroke="#999" stroke-width="1.4"/>
<rect x="874.3" y="1771.4" width="25.3" height="25.3" fill="#f9e2e3" stroke="#999" stroke-width="1.4"/>
<rect x="899.7" y="1771.4" width="25.3" height="25.3" fill="#4b48ac" stroke="#999" stroke-width="1.4"/>
<rect x="925.0" y="1771.4" width="25.3" height="25.3" fill="#cf262c" stroke="#999" stroke-width="1.4"/>
<rect x="950.3" y="1771.4" width="25.3" height="25.3" fill="#4b48ac" stroke="#999" stroke-width="1.4"/>
<rect x="975.7" y="1771.4" width="25.3" height="25.3" fill="#f9e2e3" stroke="#999" stroke-width="1.4"/>
<text x="1008.1" y="1793.3" font-size="25">SNAI2</text>
<rect x="849.0" y="1645.0" width="152.0" height="151.7" fill="none" stroke="#999" stroke-width="1.6"/>
<rect x="849.0" y="1809.6" width="25.3" height="25.2" fill="#df6e72" stroke="#999" stroke-width="1.4"/>
<rect x="874.3" y="1809.6" width="25.3" height="25.2" fill="#eca8ab" stroke="#999" stroke-width="1.4"/>
<rect x="899.7" y="1809.6" width="25.3" height="25.2" fill="#e17679" stroke="#999" stroke-width="1.4"/>
<rect x="925.0" y="1809.6" width="25.3" height="25.2" fill="#7c7ac3" stroke="#999" stroke-width="1.4"/>
<rect x="950.3" y="1809.6" width="25.3" height="25.2" fill="#6c6abb" stroke="#999" stroke-width="1.4"/>
<rect x="975.7" y="1809.6" width="25.3" height="25.2" fill="#7c7ac3" stroke="#999" stroke-width="1.4"/>
<text x="1008.1" y="1831.4" font-size="25">MYC</text>
<rect x="849.0" y="1834.8" width="25.3" height="25.2" fill="#cecde8" stroke="#999" stroke-width="1.4"/>
<rect x="874.3" y="1834.8" width="25.3" height="25.2" fill="#5c59b4" stroke="#999" stroke-width="1.4"/>
<rect x="899.7" y="1834.8" width="25.3" height="25.2" fill="#8d8bca" stroke="#999" stroke-width="1.4"/>
<rect x="925.0" y="1834.8" width="25.3" height="25.2" fill="#edafb2" stroke="#999" stroke-width="1.4"/>
<rect x="950.3" y="1834.8" width="25.3" height="25.2" fill="#e6e6f4" stroke="#999" stroke-width="1.4"/>
<rect x="975.7" y="1834.8" width="25.3" height="25.2" fill="#cf262c" stroke="#999" stroke-width="1.4"/>
<text x="1008.1" y="1856.5" font-size="25">SYP</text>
<rect x="849.0" y="1859.9" width="25.3" height="25.2" fill="#edafb2" stroke="#999" stroke-width="1.4"/>
<rect x="874.3" y="1859.9" width="25.3" height="25.2" fill="#5c59b4" stroke="#999" stroke-width="1.4"/>
<rect x="899.7" y="1859.9" width="25.3" height="25.2" fill="#9593ce" stroke="#999" stroke-width="1.4"/>
<rect x="925.0" y="1859.9" width="25.3" height="25.2" fill="#fcf1f1" stroke="#999" stroke-width="1.4"/>
<rect x="950.3" y="1859.9" width="25.3" height="25.2" fill="#9d9bd2" stroke="#999" stroke-width="1.4"/>
<rect x="975.7" y="1859.9" width="25.3" height="25.2" fill="#d12d33" stroke="#999" stroke-width="1.4"/>
<text x="1008.1" y="1881.7" font-size="25">ENO2</text>
<rect x="849.0" y="1885.1" width="25.3" height="25.2" fill="#dd676b" stroke="#999" stroke-width="1.4"/>
<rect x="874.3" y="1885.1" width="25.3" height="25.2" fill="#0a068e" stroke="#999" stroke-width="1.4"/>
<rect x="899.7" y="1885.1" width="25.3" height="25.2" fill="#a5a4d6" stroke="#999" stroke-width="1.4"/>
<rect x="925.0" y="1885.1" width="25.3" height="25.2" fill="#e58b8e" stroke="#999" stroke-width="1.4"/>
<rect x="950.3" y="1885.1" width="25.3" height="25.2" fill="#f5d4d5" stroke="#999" stroke-width="1.4"/>
<rect x="975.7" y="1885.1" width="25.3" height="25.2" fill="#fefcfc" stroke="#999" stroke-width="1.4"/>
<text x="1008.1" y="1906.9" font-size="25">EZH2</text>
<rect x="849.0" y="1910.2" width="25.3" height="25.2" fill="#221f99" stroke="#999" stroke-width="1.4"/>
<rect x="874.3" y="1910.2" width="25.3" height="25.2" fill="#dd676b" stroke="#999" stroke-width="1.4"/>
<rect x="899.7" y="1910.2" width="25.3" height="25.2" fill="#f5d4d5" stroke="#999" stroke-width="1.4"/>
<rect x="925.0" y="1910.2" width="25.3" height="25.2" fill="#f5d4d5" stroke="#999" stroke-width="1.4"/>
<rect x="950.3" y="1910.2" width="25.3" height="25.2" fill="#6c6abb" stroke="#999" stroke-width="1.4"/>
<rect x="975.7" y="1910.2" width="25.3" height="25.2" fill="#eca8ab" stroke="#999" stroke-width="1.4"/>
<text x="1008.1" y="1932.0" font-size="25">SOX2</text>
<rect x="849.0" y="1809.6" width="152.0" height="125.8" fill="none" stroke="#999" stroke-width="1.6"/>
<text x="826.0" y="1471.8" font-size="30.4" text-anchor="middle" transform="rotate(-90 826.0 1471.8)">AR Signaling</text>
<text x="826.0" y="1726.0" font-size="30.4" text-anchor="middle" transform="rotate(-90 826.0 1726.0)">EMT</text>
<text x="826.0" y="1891.0" font-size="30.4" text-anchor="middle" transform="rotate(-90 826.0 1891.0)">NE &amp; Stemness</text>
<defs><linearGradient id="cb" x1="0" y1="0" x2="0" y2="1"><stop offset="0" stop-color="#cf262c"/><stop offset="0.5" stop-color="#fff"/><stop offset="1" stop-color="#0a068e"/></linearGradient></defs>
<rect x="1144.2" y="1336.2" width="26.0" height="314.4" fill="url(#cb)"/>
<text x="1180.4" y="1355.1" font-size="25.3">1.5</text>
<text x="1180.4" y="1404.3" font-size="25.3">1</text>
<text x="1180.4" y="1453.5" font-size="25.3">0.5</text>
<text x="1180.4" y="1502.7" font-size="25.3">0</text>
<text x="1180.4" y="1551.9" font-size="25.3">−0.5</text>
<text x="1180.4" y="1601.4" font-size="25.3">−1</text>
<text x="1180.4" y="1650.2" font-size="25.3">−1.5</text>
</g>
<g>
<text x="1259.8" y="1338.5" font-size="36" font-weight="bold">I</text>
<text x="1657.3" y="1340.6" font-size="22.05" font-weight="bold" text-anchor="middle">Enrichment plot:GO:0051427 hormone receptor binding</text>
<line x1="1359.8" y1="1630.1" x2="1955.2" y2="1630.1" stroke="#e4e4e4" stroke-width="0.8" stroke-dasharray="3 3"/>
<line x1="1359.8" y1="1571.5" x2="1955.2" y2="1571.5" stroke="#e4e4e4" stroke-width="0.8" stroke-dasharray="3 3"/>
<line x1="1359.8" y1="1542.1" x2="1955.2" y2="1542.1" stroke="#e4e4e4" stroke-width="0.8" stroke-dasharray="3 3"/>
<line x1="1359.8" y1="1512.8" x2="1955.2" y2="1512.8" stroke="#e4e4e4" stroke-width="0.8" stroke-dasharray="3 3"/>
<line x1="1359.8" y1="1483.4" x2="1955.2" y2="1483.4" stroke="#e4e4e4" stroke-width="0.8" stroke-dasharray="3 3"/>
<line x1="1359.8" y1="1454.0" x2="1955.2" y2="1454.0" stroke="#e4e4e4" stroke-width="0.8" stroke-dasharray="3 3"/>
<line x1="1359.8" y1="1424.7" x2="1955.2" y2="1424.7" stroke="#e4e4e4" stroke-width="0.8" stroke-dasharray="3 3"/>
<line x1="1359.8" y1="1395.3" x2="1955.2" y2="1395.3" stroke="#e4e4e4" stroke-width="0.8" stroke-dasharray="3 3"/>
<line x1="1359.8" y1="1366.0" x2="1955.2" y2="1366.0" stroke="#e4e4e4" stroke-width="0.8" stroke-dasharray="3 3"/>
<line x1="1355.8" y1="1600.8" x2="1955.2" y2="1600.8" stroke="#888" stroke-width="1.2" stroke-dasharray="4 4"/>
<path d="M1355.8 1600.8 L1357.3 1510.3 L1358.4 1457.7 L1360.6 1424.7 L1389.6 1417.2 L1394.1 1400.6 L1420.3 1399.1 L1446.6 1400.6 L1462.0 1398.4 L1463.9 1390.5 L1537.9 1422.4 L1544.3 1421.3 L1563.4 1428.4 L1571.7 1430.7 L1577.3 1430.3 L1595.3 1437.4 L1611.9 1444.6 L1643.0 1460.7 L1673.1 1475.7 L1710.6 1494.5 L1747.0 1511.0 L1750.0 1511.4 L1795.9 1530.9 L1827.0 1540.3 L1947.9 1600.8" fill="none" stroke="#ff2a12" stroke-width="4.5" stroke-linejoin="round" stroke-linecap="round"/>
<text x="1935.6" y="1379.6" font-size="16.5" text-anchor="end">Nominal p−value: 0</text>
<text x="1935.6" y="1399.1" font-size="16.5" text-anchor="end">FDR: 0.025244478</text>
<text x="1935.6" y="1418.7" font-size="16.5" text-anchor="end">ES: 0.71648276</text>
<text x="1935.6" y="1438.2" font-size="16.5" text-anchor="end">Normalized ES: 1.9493741</text>
<line x1="1350.3" y1="1600.8" x2="1355.8" y2="1600.8" stroke="#222" stroke-width="1"/>
<text x="1340.5" y="1600.8" font-size="15.5" text-anchor="middle" transform="rotate(-90 1340.5 1600.8)">0.0</text>
<line x1="1350.3" y1="1542.1" x2="1355.8" y2="1542.1" stroke="#222" stroke-width="1"/>
<text x="1340.5" y="1542.1" font-size="15.5" text-anchor="middle" transform="rotate(-90 1340.5 1542.1)">0.2</text>
<line x1="1350.3" y1="1483.4" x2="1355.8" y2="1483.4" stroke="#222" stroke-width="1"/>
<text x="1340.5" y="1483.4" font-size="15.5" text-anchor="middle" transform="rotate(-90 1340.5 1483.4)">0.4</text>
<line x1="1350.3" y1="1424.7" x2="1355.8" y2="1424.7" stroke="#222" stroke-width="1"/>
<text x="1340.5" y="1424.7" font-size="15.5" text-anchor="middle" transform="rotate(-90 1340.5 1424.7)">0.6</text>
<line x1="1350.3" y1="1366.0" x2="1355.8" y2="1366.0" stroke="#222" stroke-width="1"/>
<text x="1340.5" y="1366.0" font-size="15.5" text-anchor="middle" transform="rotate(-90 1340.5 1366.0)">0.8</text>
<text x="1313.0" y="1496.2" font-size="22" text-anchor="middle" transform="rotate(-90 1313.0 1496.2)">Enrichment score (ES)</text>
<rect x="1355.8" y="1631.6" width="3.8" height="91.6" fill="#000"/>
<line x1="1361.4" y1="1631.6" x2="1361.4" y2="1723.2" stroke="#000" stroke-width="1.1"/>
<line x1="1389.6" y1="1631.6" x2="1389.6" y2="1723.2" stroke="#000" stroke-width="1.1"/>
<line x1="1394.1" y1="1631.6" x2="1394.1" y2="1723.2" stroke="#000" stroke-width="1.1"/>
<line x1="1420.3" y1="1631.6" x2="1420.3" y2="1723.2" stroke="#000" stroke-width="1.1"/>
<line x1="1446.6" y1="1631.6" x2="1446.6" y2="1723.2" stroke="#000" stroke-width="1.1"/>
<line x1="1462.0" y1="1631.6" x2="1462.0" y2="1723.2" stroke="#000" stroke-width="1.1"/>
<line x1="1463.9" y1="1631.6" x2="1463.9" y2="1723.2" stroke="#000" stroke-width="1.1"/>
<line x1="1537.9" y1="1631.6" x2="1537.9" y2="1723.2" stroke="#000" stroke-width="1.1"/>
<line x1="1544.3" y1="1631.6" x2="1544.3" y2="1723.2" stroke="#000" stroke-width="1.1"/>
<line x1="1563.4" y1="1631.6" x2="1563.4" y2="1723.2" stroke="#000" stroke-width="1.1"/>
<line x1="1571.7" y1="1631.6" x2="1571.7" y2="1723.2" stroke="#000" stroke-width="1.1"/>
<line x1="1577.3" y1="1631.6" x2="1577.3" y2="1723.2" stroke="#000" stroke-width="1.1"/>
<line x1="1595.3" y1="1631.6" x2="1595.3" y2="1723.2" stroke="#000" stroke-width="1.1"/>
<line x1="1611.9" y1="1631.6" x2="1611.9" y2="1723.2" stroke="#000" stroke-width="1.1"/>
<line x1="1643.0" y1="1631.6" x2="1643.0" y2="1723.2" stroke="#000" stroke-width="1.1"/>
<line x1="1647.9" y1="1631.6" x2="1647.9" y2="1723.2" stroke="#000" stroke-width="1.1"/>
<line x1="1652.4" y1="1631.6" x2="1652.4" y2="1723.2" stroke="#000" stroke-width="1.1"/>
<line x1="1664.8" y1="1631.6" x2="1664.8" y2="1723.2" stroke="#000" stroke-width="1.1"/>
<line x1="1668.6" y1="1631.6" x2="1668.6" y2="1723.2" stroke="#000" stroke-width="1.1"/>
<line x1="1670.4" y1="1631.6" x2="1670.4" y2="1723.2" stroke="#000" stroke-width="1.1"/>
<line x1="1672.7" y1="1631.6" x2="1672.7" y2="1723.2" stroke="#000" stroke-width="1.1"/>
<line x1="1688.5" y1="1631.6" x2="1688.5" y2="1723.2" stroke="#000" stroke-width="1.1"/>
<line x1="1697.5" y1="1631.6" x2="1697.5" y2="1723.2" stroke="#000" stroke-width="1.1"/>
<line x1="1709.5" y1="1631.6" x2="1709.5" y2="1723.2" stroke="#000" stroke-width="1.1"/>
<line x1="1718.9" y1="1631.6" x2="1718.9" y2="1723.2" stroke="#000" stroke-width="1.1"/>
<line x1="1747.0" y1="1631.6" x2="1747.0" y2="1723.2" stroke="#000" stroke-width="1.1"/>
<line x1="1749.3" y1="1631.6" x2="1749.3" y2="1723.2" stroke="#000" stroke-width="1.1"/>
<line x1="1795.9" y1="1631.6" x2="1795.9" y2="1723.2" stroke="#000" stroke-width="1.1"/>
<line x1="1827.0" y1="1631.6" x2="1827.0" y2="1723.2" stroke="#000" stroke-width="1.1"/>
<line x1="1654.3" y1="1631.6" x2="1654.3" y2="1723.2" stroke="#000" stroke-width="1.8"/>
<rect x="1355.8" y="1723.2" width="5.9" height="19.2" fill="#e8868a"/>
<rect x="1361.4" y="1723.2" width="22.8" height="19.2" fill="#f0282d"/>
<rect x="1383.9" y="1723.2" width="82.9" height="19.2" fill="#f53d3d"/>
<rect x="1466.5" y="1723.2" width="56.6" height="19.2" fill="#f0707a"/>
<rect x="1522.9" y="1723.2" width="56.6" height="19.2" fill="#f0a5ad"/>
<rect x="1579.2" y="1723.2" width="141.1" height="19.2" fill="#f6dfe1"/>
<rect x="1720.0" y="1723.2" width="46.5" height="19.2" fill="#e0e2fa"/>
<rect x="1766.2" y="1723.2" width="45.4" height="19.2" fill="#a9a5f8"/>
<rect x="1811.3" y="1723.2" width="46.1" height="19.2" fill="#7873f8"/>
<rect x="1857.1" y="1723.2" width="67.9" height="19.2" fill="#4020fa"/>
<rect x="1924.7" y="1723.2" width="22.8" height="19.2" fill="#1a0ae8"/>
<line x1="1361.4" y1="1723.2" x2="1361.4" y2="1742.4" stroke="#000" stroke-width="0.9" stroke-opacity="0.3"/>
<line x1="1389.6" y1="1723.2" x2="1389.6" y2="1742.4" stroke="#000" stroke-width="0.9" stroke-opacity="0.3"/>
<line x1="1394.1" y1="1723.2" x2="1394.1" y2="1742.4" stroke="#000" stroke-width="0.9" stroke-opacity="0.3"/>
<line x1="1420.3" y1="1723.2" x2="1420.3" y2="1742.4" stroke="#000" stroke-width="0.9" stroke-opacity="0.3"/>
<line x1="1446.6" y1="1723.2" x2="1446.6" y2="1742.4" stroke="#000" stroke-width="0.9" stroke-opacity="0.3"/>
<line x1="1462.0" y1="1723.2" x2="1462.0" y2="1742.4" stroke="#000" stroke-width="0.9" stroke-opacity="0.3"/>
<line x1="1463.9" y1="1723.2" x2="1463.9" y2="1742.4" stroke="#000" stroke-width="0.9" stroke-opacity="0.3"/>
<line x1="1537.9" y1="1723.2" x2="1537.9" y2="1742.4" stroke="#000" stroke-width="0.9" stroke-opacity="0.3"/>
<line x1="1544.3" y1="1723.2" x2="1544.3" y2="1742.4" stroke="#000" stroke-width="0.9" stroke-opacity="0.3"/>
<line x1="1563.4" y1="1723.2" x2="1563.4" y2="1742.4" stroke="#000" stroke-width="0.9" stroke-opacity="0.3"/>
<line x1="1571.7" y1="1723.2" x2="1571.7" y2="1742.4" stroke="#000" stroke-width="0.9" stroke-opacity="0.3"/>
<line x1="1577.3" y1="1723.2" x2="1577.3" y2="1742.4" stroke="#000" stroke-width="0.9" stroke-opacity="0.3"/>
<line x1="1595.3" y1="1723.2" x2="1595.3" y2="1742.4" stroke="#000" stroke-width="0.9" stroke-opacity="0.3"/>
<line x1="1611.9" y1="1723.2" x2="1611.9" y2="1742.4" stroke="#000" stroke-width="0.9" stroke-opacity="0.3"/>
<line x1="1643.0" y1="1723.2" x2="1643.0" y2="1742.4" stroke="#000" stroke-width="0.9" stroke-opacity="0.3"/>
<line x1="1647.9" y1="1723.2" x2="1647.9" y2="1742.4" stroke="#000" stroke-width="0.9" stroke-opacity="0.3"/>
<line x1="1652.4" y1="1723.2" x2="1652.4" y2="1742.4" stroke="#000" stroke-width="0.9" stroke-opacity="0.3"/>
<line x1="1654.3" y1="1723.2" x2="1654.3" y2="1742.4" stroke="#000" stroke-width="0.9" stroke-opacity="0.3"/>
<line x1="1664.8" y1="1723.2" x2="1664.8" y2="1742.4" stroke="#000" stroke-width="0.9" stroke-opacity="0.3"/>
<line x1="1668.6" y1="1723.2" x2="1668.6" y2="1742.4" stroke="#000" stroke-width="0.9" stroke-opacity="0.3"/>
<line x1="1670.4" y1="1723.2" x2="1670.4" y2="1742.4" stroke="#000" stroke-width="0.9" stroke-opacity="0.3"/>
<line x1="1672.7" y1="1723.2" x2="1672.7" y2="1742.4" stroke="#000" stroke-width="0.9" stroke-opacity="0.3"/>
<line x1="1688.5" y1="1723.2" x2="1688.5" y2="1742.4" stroke="#000" stroke-width="0.9" stroke-opacity="0.3"/>
<line x1="1697.5" y1="1723.2" x2="1697.5" y2="1742.4" stroke="#000" stroke-width="0.9" stroke-opacity="0.3"/>
<line x1="1709.5" y1="1723.2" x2="1709.5" y2="1742.4" stroke="#000" stroke-width="0.9" stroke-opacity="0.3"/>
<line x1="1718.9" y1="1723.2" x2="1718.9" y2="1742.4" stroke="#000" stroke-width="0.9" stroke-opacity="0.3"/>
<line x1="1747.0" y1="1723.2" x2="1747.0" y2="1742.4" stroke="#000" stroke-width="0.9" stroke-opacity="0.3"/>
<line x1="1749.3" y1="1723.2" x2="1749.3" y2="1742.4" stroke="#000" stroke-width="0.9" stroke-opacity="0.3"/>
<line x1="1795.9" y1="1723.2" x2="1795.9" y2="1742.4" stroke="#000" stroke-width="0.9" stroke-opacity="0.3"/>
<line x1="1827.0" y1="1723.2" x2="1827.0" y2="1742.4" stroke="#000" stroke-width="0.9" stroke-opacity="0.3"/>
<text x="1361.4" y="1736.6" font-size="10.6">Positive</text>
<text x="1941.0" y="1736.6" font-size="10.6" text-anchor="end">Negative</text>
<path d="M1355.8 1851.6 L1355.8 1763.8 L1356.9 1778.8 L1358.4 1788.2 L1360.6 1796.4 L1363.3 1803.2 L1367.8 1809.6 L1372.7 1814.5 L1383.9 1820.8 L1397.1 1825.3 L1410.2 1828.7 L1429.0 1832.1 L1447.8 1835.1 L1474.0 1838.9 L1500.3 1841.9 L1530.4 1844.5 L1560.4 1846.8 L1598.0 1849.4 L1633.6 1851.6 L1673.1 1852.8 L1710.6 1854.3 L1748.2 1855.8 L1785.7 1858.0 L1823.3 1860.3 L1853.3 1862.5 L1879.6 1865.2 L1898.4 1868.2 L1917.2 1872.7 L1928.4 1878.3 L1935.9 1883.9 L1940.4 1890.3 L1943.4 1897.1 L1945.3 1906.5 L1946.4 1915.8 L1947.2 1934.6 L1947.2 1851.6 Z" fill="#d2d2d2" stroke="none" stroke-width="0"/>
<line x1="1634.4" y1="1742.4" x2="1634.4" y2="1936.1" stroke="#888" stroke-width="1" stroke-dasharray="2.5 2.5"/>
<text x="1642.3" y="1845.8" font-size="22" text-anchor="middle">Zero cross at 9583</text>
<line x1="1350.3" y1="1760.0" x2="1355.8" y2="1760.0" stroke="#222" stroke-width="1"/>
<text x="1340.5" y="1760.0" font-size="15.5" text-anchor="middle" transform="rotate(-90 1340.5 1760.0)">4</text>
<line x1="1350.3" y1="1805.8" x2="1355.8" y2="1805.8" stroke="#222" stroke-width="1"/>
<text x="1340.5" y="1805.8" font-size="15.5" text-anchor="middle" transform="rotate(-90 1340.5 1805.8)">2</text>
<line x1="1350.3" y1="1851.6" x2="1355.8" y2="1851.6" stroke="#222" stroke-width="1"/>
<text x="1340.5" y="1851.6" font-size="15.5" text-anchor="middle" transform="rotate(-90 1340.5 1851.6)">0</text>
<line x1="1350.3" y1="1897.4" x2="1355.8" y2="1897.4" stroke="#222" stroke-width="1"/>
<text x="1340.5" y="1897.4" font-size="15.5" text-anchor="middle" transform="rotate(-90 1340.5 1897.4)">−2</text>
<text x="1313.0" y="1839.6" font-size="22" text-anchor="middle" transform="rotate(-90 1313.0 1839.6)">SCORE</text>
<rect x="1355.8" y="1359.3" width="603.4" height="272.3" fill="none" stroke="#111" stroke-width="1.1"/>
<rect x="1355.8" y="1631.6" width="603.4" height="91.6" fill="none" stroke="#111" stroke-width="1.1"/>
<rect x="1355.8" y="1723.2" width="603.4" height="19.2" fill="none" stroke="#111" stroke-width="1.1"/>
<rect x="1355.8" y="1742.4" width="603.4" height="193.7" fill="none" stroke="#111" stroke-width="1.1"/>
<line x1="1500.3" y1="1936.1" x2="1500.3" y2="1941.6" stroke="#222" stroke-width="1"/>
<text x="1500.3" y="1961.0" font-size="15.8" text-anchor="middle">5000</text>
<line x1="1645.7" y1="1936.1" x2="1645.7" y2="1941.6" stroke="#222" stroke-width="1"/>
<text x="1645.7" y="1961.0" font-size="15.8" text-anchor="middle">10000</text>
<line x1="1791.4" y1="1936.1" x2="1791.4" y2="1941.6" stroke="#222" stroke-width="1"/>
<text x="1791.4" y="1961.0" font-size="15.8" text-anchor="middle">15000</text>
<line x1="1937.1" y1="1936.1" x2="1937.1" y2="1941.6" stroke="#222" stroke-width="1"/>
<text x="1937.1" y="1961.0" font-size="15.8" text-anchor="middle">20000</text>
<text x="1657.3" y="1986.5" font-size="22" text-anchor="middle">Rank in ordered gene list</text>
</g>
</svg>
</body></html>
